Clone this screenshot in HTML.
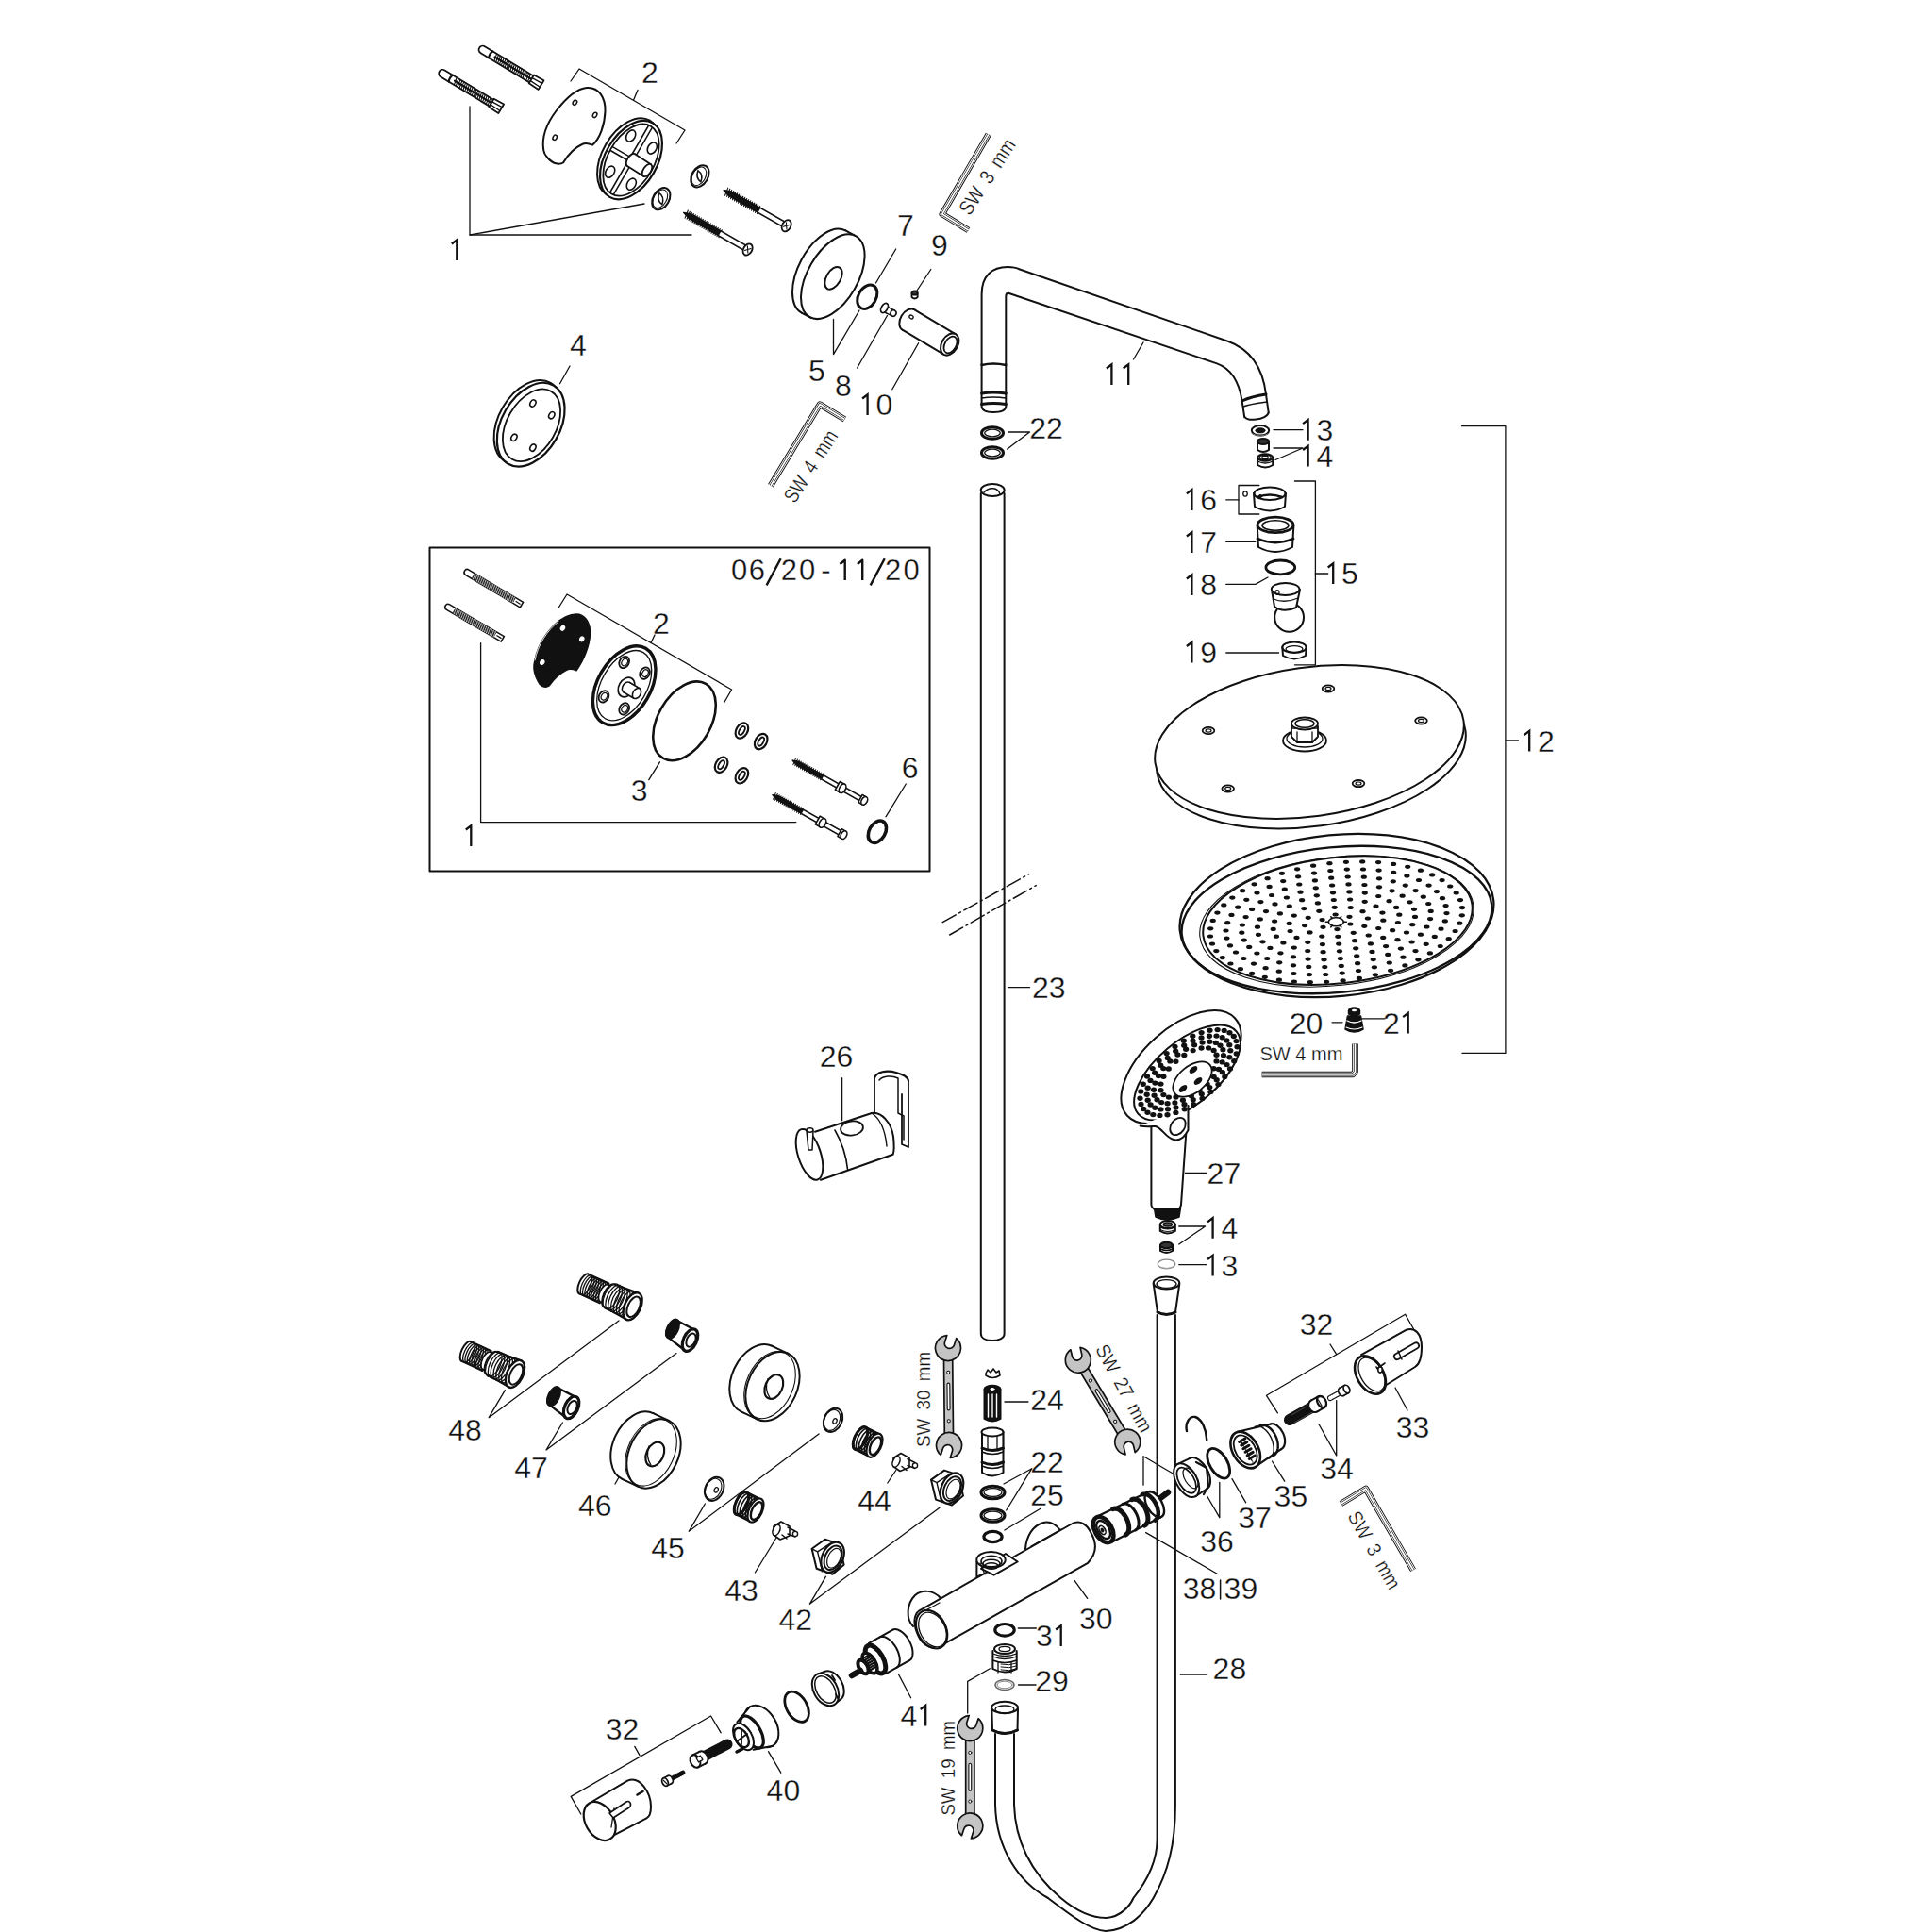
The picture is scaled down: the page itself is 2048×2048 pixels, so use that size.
<!DOCTYPE html>
<html><head><meta charset="utf-8"><style>
html,body{margin:0;padding:0;background:#fff;}
svg{display:block;}
text{font-family:"Liberation Sans",sans-serif;fill:#111;}
</style></head><body>
<svg width="2048" height="2048" viewBox="0 0 2048 2048">
<rect width="2048" height="2048" fill="#fff"/>
<g fill="none" stroke="#111" stroke-linejoin="round" stroke-linecap="round">
<g stroke="#fff" stroke-width="0.3" fill="#111">
<text x="689.0" y="88.0" font-size="32" text-anchor="middle">2</text>
<text x="613.0" y="377.0" font-size="32" text-anchor="middle">4</text>
<text x="866.0" y="404.0" font-size="32" text-anchor="middle">5</text>
<text x="894.0" y="420.0" font-size="32" text-anchor="middle">8</text>
<text x="960.0" y="250.0" font-size="32" text-anchor="middle">7</text>
<text x="996.0" y="271.0" font-size="32" text-anchor="middle">9</text>
<text x="928.5" y="440.0" font-size="32" text-anchor="middle"> 0</text>
<text x="1109.0" y="465.0" font-size="32" text-anchor="middle">22</text>
<text x="1395.5" y="466.7" font-size="32" text-anchor="middle"> 3</text>
<text x="1395.5" y="494.5" font-size="32" text-anchor="middle"> 4</text>
<text x="1272.3" y="540.9" font-size="32" text-anchor="middle"> 6</text>
<text x="1272.3" y="586.0" font-size="32" text-anchor="middle"> 7</text>
<text x="1272.3" y="631.0" font-size="32" text-anchor="middle"> 8</text>
<text x="1272.3" y="702.5" font-size="32" text-anchor="middle"> 9</text>
<text x="1422.1" y="619.0" font-size="32" text-anchor="middle"> 5</text>
<text x="1630.1" y="796.6" font-size="32" text-anchor="middle"> 2</text>
<text x="1384.5" y="1095.6" font-size="32" text-anchor="middle">20</text>
<text x="1483.8" y="1095.6" font-size="32" text-anchor="middle">2 </text>
<text x="1297.4" y="1254.5" font-size="32" text-anchor="middle">27</text>
<text x="1294.5" y="1312.8" font-size="32" text-anchor="middle"> 4</text>
<text x="1294.5" y="1352.5" font-size="32" text-anchor="middle"> 3</text>
<text x="1395.5" y="1414.8" font-size="32" text-anchor="middle">32</text>
<text x="1497.5" y="1523.5" font-size="32" text-anchor="middle">33</text>
<text x="1417.0" y="1568.0" font-size="32" text-anchor="middle">34</text>
<text x="1368.4" y="1597.0" font-size="32" text-anchor="middle">35</text>
<text x="1290.0" y="1644.8" font-size="32" text-anchor="middle">36</text>
<text x="1330.0" y="1619.7" font-size="32" text-anchor="middle">37</text>
<text x="1271.6" y="1695.0" font-size="32" text-anchor="middle">38</text>
<text x="1315.4" y="1695.0" font-size="32" text-anchor="middle">39</text>
<text x="1161.8" y="1726.5" font-size="32" text-anchor="middle">30</text>
<text x="1115.8" y="1745.0" font-size="32" text-anchor="middle">3 </text>
<text x="1115.0" y="1793.2" font-size="32" text-anchor="middle">29</text>
<text x="1303.4" y="1780.0" font-size="32" text-anchor="middle">28</text>
<text x="1110.0" y="1495.4" font-size="32" text-anchor="middle">24</text>
<text x="1110.0" y="1561.4" font-size="32" text-anchor="middle">22</text>
<text x="1110.0" y="1595.8" font-size="32" text-anchor="middle">25</text>
<text x="1111.7" y="1057.6" font-size="32" text-anchor="middle">23</text>
<text x="886.6" y="1131.2" font-size="32" text-anchor="middle">26</text>
<text x="493.0" y="1527.0" font-size="32" text-anchor="middle">48</text>
<text x="563.0" y="1566.7" font-size="32" text-anchor="middle">47</text>
<text x="630.8" y="1606.5" font-size="32" text-anchor="middle">46</text>
<text x="708.0" y="1651.6" font-size="32" text-anchor="middle">45</text>
<text x="927.0" y="1602.0" font-size="32" text-anchor="middle">44</text>
<text x="786.0" y="1696.6" font-size="32" text-anchor="middle">43</text>
<text x="843.2" y="1728.4" font-size="32" text-anchor="middle">42</text>
<text x="972.3" y="1829.5" font-size="32" text-anchor="middle">4 </text>
<text x="830.4" y="1908.7" font-size="32" text-anchor="middle">40</text>
<text x="659.5" y="1843.8" font-size="32" text-anchor="middle">32</text>
<text x="701.0" y="672.4" font-size="32" text-anchor="middle">2</text>
<text x="677.7" y="849.3" font-size="32" text-anchor="middle">3</text>
<text x="964.6" y="824.6" font-size="32" text-anchor="middle">6</text>
</g>
<g stroke="#111" stroke-width="2.3" stroke-linecap="butt" stroke-linejoin="miter" fill="none">
<path d="M484.3,276.0 L484.3,254.3 L478.8,258.5"/>
<path d="M919.6,440.0 L919.6,418.3 L914.1,422.5"/>
<path d="M1178.4,408.0 L1178.4,386.3 L1172.9,390.5"/>
<path d="M1196.2,408.0 L1196.2,386.3 L1190.7,390.5"/>
<path d="M1386.6,466.7 L1386.6,445.0 L1381.1,449.2"/>
<path d="M1386.6,494.5 L1386.6,472.8 L1381.1,477.0"/>
<path d="M1263.4,540.9 L1263.4,519.2 L1257.9,523.4"/>
<path d="M1263.4,586.0 L1263.4,564.3 L1257.9,568.5"/>
<path d="M1263.4,631.0 L1263.4,609.3 L1257.9,613.5"/>
<path d="M1263.4,702.5 L1263.4,680.8 L1257.9,685.0"/>
<path d="M1413.2,619.0 L1413.2,597.3 L1407.7,601.5"/>
<path d="M1621.2,796.6 L1621.2,774.9 L1615.7,779.1"/>
<path d="M1492.7,1095.6 L1492.7,1073.9 L1487.2,1078.1"/>
<path d="M1285.6,1312.8 L1285.6,1291.1 L1280.1,1295.3"/>
<path d="M1285.6,1352.5 L1285.6,1330.8 L1280.1,1335.0"/>
<path d="M1124.7,1745.0 L1124.7,1723.3 L1119.2,1727.5"/>
<path d="M981.2,1829.5 L981.2,1807.8 L975.7,1812.0"/>
<path d="M499.3,897.0 L499.3,875.3 L493.8,879.5"/>
</g>
<g stroke="#fff" stroke-width="0.3" fill="#111" font-size="31" text-anchor="middle">
<text x="783.5" y="615.1">0</text>
<text x="802.3" y="615.1">6</text>
<text x="836.4" y="615.1">2</text>
<text x="855.5" y="615.1">0</text>
<text x="875.5" y="615.1">-</text>
<text x="946.5" y="615.1">2</text>
<text x="966" y="615.1">0</text>
</g>
<g stroke="#111" stroke-width="2.4" fill="none" stroke-linecap="butt">
<path d="M812.6,620.4 L827.6,592.2"/>
<path d="M895.7,615.1 L895.7,593.7 L890.4000000000001,598.0"/>
<path d="M914.2,615.1 L914.2,593.7 L908.9000000000001,598.0"/>
<path d="M922.7,620.4 L937.7,592.2"/>
</g>
<rect x="455.5" y="580.5" width="530" height="343" stroke="#111" fill="none" stroke-width="2"/>
<line x1="1293.6" y1="1675" x2="1293.6" y2="1695" stroke="#111" stroke-width="1.5"/>
<g stroke-width="1.3">
<polyline points="605,86 614,73 726,138 717,152"/>
<line x1="671.6" y1="106" x2="676" y2="95.4"/>
<polyline points="498,113 498,249 733,249"/>
<line x1="498" y1="249" x2="683" y2="216"/>
<line x1="593.5" y1="406.8" x2="604" y2="388"/>
<polyline points="883.5,338.5 883.5,375.6 911,329"/>
<line x1="928.5" y1="300" x2="949.7" y2="264"/>
<line x1="908.6" y1="390" x2="940.5" y2="334.5"/>
<line x1="972" y1="308" x2="986.8" y2="285.5"/>
<line x1="945.8" y1="412.7" x2="973.6" y2="363.7"/>
<line x1="1201.5" y1="381" x2="1212" y2="363"/>
<polyline points="1069,458 1091.5,458 1067.7,476"/>
<line x1="1350" y1="455.7" x2="1381" y2="455.7"/>
<polyline points="1350,475 1381,475 1352,487.5"/>
<polyline points="1372.4,510 1394.4,510 1394.4,704.8 1372.4,704.8"/>
<line x1="1394.4" y1="608" x2="1407.7" y2="608"/>
<polyline points="1334.8,514.5 1313,514.5 1313,545 1334.8,545"/>
<line x1="1299.8" y1="529.9" x2="1313" y2="529.9"/>
<line x1="1299.8" y1="574.4" x2="1330.8" y2="574.4"/>
<polyline points="1299.8,619.4 1330.8,619.4 1344,612"/>
<line x1="1299.8" y1="692" x2="1355.5" y2="692"/>
<polyline points="1549.5,451.7 1595.9,451.7 1595.9,1116.4 1550,1116.4"/>
<line x1="1595.9" y1="785" x2="1609.5" y2="785"/>
<line x1="1412" y1="1083.8" x2="1423" y2="1083.8"/>
<line x1="1444" y1="1079.8" x2="1468" y2="1079.8"/>
<line x1="1068.8" y1="1046.6" x2="1091.6" y2="1046.6"/>
<line x1="892.6" y1="1142.7" x2="892.6" y2="1187.7"/>
<line x1="1256.4" y1="1243.5" x2="1279" y2="1243.5"/>
<polyline points="1249.7,1300 1277.6,1300 1249.7,1319"/>
<line x1="1249.7" y1="1340.7" x2="1279" y2="1340.7"/>
<polyline points="1354.4,1497.9 1342.5,1479.3 1489.6,1393.2 1500.2,1411.7"/>
<line x1="1416.7" y1="1435.6" x2="1410" y2="1425"/>
<line x1="1479" y1="1471" x2="1492" y2="1495"/>
<polyline points="1398,1509.8 1416.7,1543 1416.7,1484.6"/>
<line x1="1348.5" y1="1549" x2="1361.7" y2="1570.2"/>
<polyline points="1279.6,1586 1292.8,1608.7 1292.8,1571.5"/>
<line x1="1306" y1="1567.6" x2="1320.7" y2="1592.8"/>
<polyline points="1212,1574.2 1212,1543.7 1242.5,1561.5"/>
<line x1="1214.7" y1="1624.6" x2="1290.2" y2="1668.3"/>
<line x1="1065" y1="1486" x2="1089.9" y2="1486"/>
<polyline points="1064,1573 1093.8,1556.7 1066.7,1601"/>
<line x1="1064.9" y1="1622" x2="1102.9" y2="1599.3"/>
<line x1="1139" y1="1675.4" x2="1152.7" y2="1694.4"/>
<line x1="1079.3" y1="1726" x2="1098.4" y2="1726"/>
<line x1="1079.5" y1="1786" x2="1098" y2="1786"/>
<line x1="1251.2" y1="1775" x2="1279.6" y2="1775"/>
<polyline points="1049.3,1768.8 1025.7,1782.4 1025.7,1816"/>
<polyline points="535.4,1473.6 518.2,1502.7 656,1400"/>
<polyline points="596.4,1508 579,1537 717,1434.6"/>
<line x1="652" y1="1573" x2="657.3" y2="1563.7"/>
<polyline points="747.4,1594 730.2,1623.3 868,1520"/>
<line x1="940.8" y1="1572" x2="949.8" y2="1558.5"/>
<line x1="800.4" y1="1667" x2="823" y2="1630"/>
<polyline points="875.5,1671.2 858.3,1700.3 996,1598.3"/>
<line x1="952.3" y1="1774.5" x2="965.6" y2="1799.7"/>
<line x1="814.5" y1="1856.7" x2="827.8" y2="1879.2"/>
<polyline points="615.8,1923 605.2,1904.4 753.6,1819 764.2,1836.8"/>
<line x1="678" y1="1860.6" x2="672.8" y2="1851.4"/>
<polyline points="592.2,644 601,630 775.6,731 767.5,745"/>
<line x1="690" y1="681.5" x2="694" y2="673"/>
<polyline points="509.6,681.7 509.6,871.6 843.8,871.6"/>
<line x1="687.8" y1="826.7" x2="699.4" y2="807.8"/>
<line x1="939" y1="865.8" x2="960.3" y2="831"/>
</g>

<g stroke-width="2">
<!-- pipe 11 -->
<path d="M1040.6,386 L1040.6,312 C1040.6,292 1052,283 1068,283 C1074,283 1078,284 1081,285.5 L1301.6,361.7 C1322,369 1338,385 1342,418 L1344.7,437.4"/>
<path d="M1066.3,386 L1066.3,314 C1066.3,311 1067.5,310.7 1069,310.7 L1290,385.4 C1303,390 1313,402 1316.6,425 L1319.2,441.8"/>
<path d="M1319.2,441.8 C1322,445 1328,445 1331.5,444.4 C1338,444 1344,441 1344.7,437.4"/>
<path d="M1316.6,425 C1325,421 1335,419 1342,418" stroke-width="3"/>
<path d="M1318,431 C1326,428 1336,427 1343,426" stroke-width="1.6"/>
<!-- pipe lower end w/ rings -->
<path d="M1040.6,386 L1040.6,431 C1041,436 1046,437 1053,437 C1060,437 1066,436 1066.3,431 L1066.3,386"/>
<path d="M1040.6,387 Q1053,384 1066.3,387" stroke-width="2.4"/>
<path d="M1040.6,417 Q1053,415 1066.3,417" stroke-width="3"/>
<path d="M1040.6,422 Q1053,420 1066.3,422" stroke-width="1.6"/>
<path d="M1040.6,428.5 Q1053,426.5 1066.3,428.5" stroke-width="3.2"/>
<!-- o-rings 22 top -->
<ellipse cx="1052" cy="459" rx="11.5" ry="6.3" stroke-width="3"/><ellipse cx="1052" cy="459" rx="8.3" ry="3.8" stroke-width="1.3"/>
<ellipse cx="1052" cy="480" rx="11.5" ry="6.3" stroke-width="3"/><ellipse cx="1052" cy="480" rx="8.3" ry="3.8" stroke-width="1.3"/>
<!-- rail 23 -->
<path d="M1039.8,523 L1039.8,1414 C1040,1419 1046,1421 1052,1421 C1058,1421 1064.6,1419 1064.6,1414 L1064.6,523"/>
<ellipse cx="1052.2" cy="519.5" rx="12.5" ry="6.5"/>
<path d="M1043,522 C1048,516 1058,516 1060,524" stroke-width="1.4"/>
</g>
<g stroke-width="1.5" stroke-dasharray="16,4,2,4">
<line x1="999.2" y1="977.6" x2="1090.7" y2="926.6"/>
<line x1="1006.7" y1="991" x2="1098.2" y2="938.6"/>
</g>
<g stroke-width="2">
<!-- hose 28 -->
<path d="M1245.9,1394 L1245.9,1913 C1246,1955 1238,1985 1222.6,2012 C1212,2030 1195,2046 1172,2047 C1155,2046 1135,2030 1111,2012 C1080,1995 1056,1960 1055,1913 L1055,1838"/>
<path d="M1226.6,1394 L1226.6,1950 C1226.6,1975 1215,1995 1201.4,2012 C1198,2020 1188,2032 1172.8,2033 C1155,2033 1140,2025 1124.6,2012 C1092,1985 1076,1950 1075,1913 L1075,1838"/>
<!-- hose nut top -->
<path d="M1222.7,1361 L1227,1391 Q1236.5,1395 1246,1391 L1250.3,1361"/>
<ellipse cx="1236.5" cy="1360" rx="13.8" ry="6.6"/>
<ellipse cx="1236.5" cy="1361" rx="10.5" ry="4.4" stroke-width="1.3"/>
<path d="M1227,1391 Q1236.5,1396 1246,1391" stroke-width="3"/>
<!-- hose nut bottom -->
<path d="M1051.4,1812 L1052,1834 Q1065,1841 1078.5,1834 L1079,1812"/>
<ellipse cx="1065" cy="1810" rx="14" ry="6.3"/>
<ellipse cx="1065" cy="1812" rx="10" ry="4" stroke-width="1.3"/>
<path d="M1052,1834 Q1065,1841 1078.5,1834" stroke-width="3"/>
</g>

<g stroke-width="2">
<ellipse cx="1390" cy="797.0" rx="165" ry="79" transform="rotate(-7.8 1390 797.0)" fill="#fff"/>
<ellipse cx="1388" cy="786.5" rx="165" ry="79" transform="rotate(-7.8 1388 786.5)" fill="#fff"/>
<ellipse cx="1408" cy="730" rx="6.3" ry="3.6" stroke-width="1.8"/>
<ellipse cx="1408" cy="730" rx="3" ry="1.6" stroke-width="1.2"/>
<ellipse cx="1506.5" cy="764" rx="6.3" ry="3.6" stroke-width="1.8"/>
<ellipse cx="1506.5" cy="764" rx="3" ry="1.6" stroke-width="1.2"/>
<ellipse cx="1281" cy="774.5" rx="6.3" ry="3.6" stroke-width="1.8"/>
<ellipse cx="1281" cy="774.5" rx="3" ry="1.6" stroke-width="1.2"/>
<ellipse cx="1301.7" cy="836" rx="6.3" ry="3.6" stroke-width="1.8"/>
<ellipse cx="1301.7" cy="836" rx="3" ry="1.6" stroke-width="1.2"/>
<ellipse cx="1440" cy="830.6" rx="6.3" ry="3.6" stroke-width="1.8"/>
<ellipse cx="1440" cy="830.6" rx="3" ry="1.6" stroke-width="1.2"/>
<ellipse cx="1383" cy="785" rx="23" ry="11.5" stroke-width="1.8"/>
<ellipse cx="1383" cy="783" rx="19" ry="9" stroke-width="1.3"/>
<path d="M1369,781 L1369,770 L1375,764 L1391,764 L1397,770 L1397,781 L1391,787 L1375,787 Z" fill="#fff" stroke-width="1.8"/>
<line x1="1375" y1="776" x2="1375" y2="787" stroke-width="1.3"/><line x1="1391" y1="776" x2="1391" y2="787" stroke-width="1.3"/>
<path d="M1369,772 L1397,772" stroke-width="1.3"/>
<ellipse cx="1383" cy="767" rx="14" ry="6.5" fill="#fff" stroke-width="1.8"/>
<ellipse cx="1383" cy="767" rx="10" ry="4.3" stroke-width="1.5"/>
<ellipse cx="1417" cy="970.5" rx="167" ry="85.5" transform="rotate(-5.5 1417 970.5)" stroke-width="2.3"/>
<ellipse cx="1417" cy="975" rx="165" ry="77" transform="rotate(-5.5 1417 975)" stroke-width="2.3"/>
<ellipse cx="1418" cy="975.7" rx="143.5" ry="66.7" transform="rotate(-6.5 1418 975.7)" stroke-width="2"/>
<ellipse cx="1417" cy="976.5" rx="146" ry="68" transform="rotate(-6.5 1417 976.5)" stroke-width="1.1"/>
</g>
<g fill="#111" stroke="none"><ellipse cx="1431.4" cy="979.5" rx="3.1" ry="2.1"/><ellipse cx="1417.4" cy="985.1" rx="3.1" ry="2.1"/><ellipse cx="1402.5" cy="982.8" rx="3.1" ry="2.1"/><ellipse cx="1401.6" cy="975.1" rx="3.1" ry="2.1"/><ellipse cx="1415.6" cy="969.5" rx="3.1" ry="2.1"/><ellipse cx="1430.5" cy="971.8" rx="3.1" ry="2.1"/><ellipse cx="1449.9" cy="973.5" rx="3.1" ry="2.1"/><ellipse cx="1446.3" cy="981.8" rx="3.1" ry="2.1"/><ellipse cx="1434.7" cy="988.8" rx="3.1" ry="2.1"/><ellipse cx="1418.3" cy="992.8" rx="3.1" ry="2.1"/><ellipse cx="1401.3" cy="992.6" rx="3.1" ry="2.1"/><ellipse cx="1388.5" cy="988.4" rx="3.1" ry="2.1"/><ellipse cx="1383.1" cy="981.1" rx="3.1" ry="2.1"/><ellipse cx="1386.7" cy="972.8" rx="3.1" ry="2.1"/><ellipse cx="1398.3" cy="965.8" rx="3.1" ry="2.1"/><ellipse cx="1414.7" cy="961.8" rx="3.1" ry="2.1"/><ellipse cx="1431.7" cy="962.0" rx="3.1" ry="2.1"/><ellipse cx="1444.5" cy="966.2" rx="3.1" ry="2.1"/><ellipse cx="1466.3" cy="975.7" rx="3.1" ry="2.1"/><ellipse cx="1461.2" cy="984.0" rx="3.1" ry="2.1"/><ellipse cx="1450.7" cy="991.5" rx="3.1" ry="2.1"/><ellipse cx="1436.1" cy="997.2" rx="3.1" ry="2.1"/><ellipse cx="1419.2" cy="1000.6" rx="3.1" ry="2.1"/><ellipse cx="1401.9" cy="1001.1" rx="3.1" ry="2.1"/><ellipse cx="1386.3" cy="998.8" rx="3.1" ry="2.1"/><ellipse cx="1374.5" cy="993.9" rx="3.1" ry="2.1"/><ellipse cx="1367.6" cy="987.0" rx="3.1" ry="2.1"/><ellipse cx="1366.7" cy="978.9" rx="3.1" ry="2.1"/><ellipse cx="1371.8" cy="970.6" rx="3.1" ry="2.1"/><ellipse cx="1382.3" cy="963.1" rx="3.1" ry="2.1"/><ellipse cx="1396.9" cy="957.4" rx="3.1" ry="2.1"/><ellipse cx="1413.8" cy="954.0" rx="3.1" ry="2.1"/><ellipse cx="1431.1" cy="953.5" rx="3.1" ry="2.1"/><ellipse cx="1446.7" cy="955.8" rx="3.1" ry="2.1"/><ellipse cx="1458.5" cy="960.7" rx="3.1" ry="2.1"/><ellipse cx="1465.4" cy="967.6" rx="3.1" ry="2.1"/><ellipse cx="1483.3" cy="969.7" rx="3.1" ry="2.1"/><ellipse cx="1481.9" cy="978.0" rx="3.1" ry="2.1"/><ellipse cx="1476.1" cy="986.2" rx="3.1" ry="2.1"/><ellipse cx="1466.2" cy="993.9" rx="3.1" ry="2.1"/><ellipse cx="1452.9" cy="1000.4" rx="3.1" ry="2.1"/><ellipse cx="1437.2" cy="1005.3" rx="3.1" ry="2.1"/><ellipse cx="1420.0" cy="1008.3" rx="3.1" ry="2.1"/><ellipse cx="1402.6" cy="1009.2" rx="3.1" ry="2.1"/><ellipse cx="1386.2" cy="1008.0" rx="3.1" ry="2.1"/><ellipse cx="1371.8" cy="1004.6" rx="3.1" ry="2.1"/><ellipse cx="1360.4" cy="999.4" rx="3.1" ry="2.1"/><ellipse cx="1352.9" cy="992.7" rx="3.1" ry="2.1"/><ellipse cx="1349.7" cy="984.9" rx="3.1" ry="2.1"/><ellipse cx="1351.1" cy="976.6" rx="3.1" ry="2.1"/><ellipse cx="1356.9" cy="968.4" rx="3.1" ry="2.1"/><ellipse cx="1366.8" cy="960.7" rx="3.1" ry="2.1"/><ellipse cx="1380.1" cy="954.2" rx="3.1" ry="2.1"/><ellipse cx="1395.8" cy="949.3" rx="3.1" ry="2.1"/><ellipse cx="1413.0" cy="946.3" rx="3.1" ry="2.1"/><ellipse cx="1430.4" cy="945.4" rx="3.1" ry="2.1"/><ellipse cx="1446.8" cy="946.6" rx="3.1" ry="2.1"/><ellipse cx="1461.2" cy="950.0" rx="3.1" ry="2.1"/><ellipse cx="1472.6" cy="955.2" rx="3.1" ry="2.1"/><ellipse cx="1480.1" cy="961.9" rx="3.1" ry="2.1"/><ellipse cx="1500.0" cy="971.9" rx="3.1" ry="2.1"/><ellipse cx="1497.2" cy="980.2" rx="3.1" ry="2.1"/><ellipse cx="1491.0" cy="988.5" rx="3.1" ry="2.1"/><ellipse cx="1481.5" cy="996.2" rx="3.1" ry="2.1"/><ellipse cx="1469.1" cy="1003.1" rx="3.1" ry="2.1"/><ellipse cx="1454.5" cy="1008.9" rx="3.1" ry="2.1"/><ellipse cx="1438.2" cy="1013.3" rx="3.1" ry="2.1"/><ellipse cx="1420.9" cy="1016.1" rx="3.1" ry="2.1"/><ellipse cx="1403.5" cy="1017.2" rx="3.1" ry="2.1"/><ellipse cx="1386.6" cy="1016.6" rx="3.1" ry="2.1"/><ellipse cx="1371.0" cy="1014.3" rx="3.1" ry="2.1"/><ellipse cx="1357.4" cy="1010.3" rx="3.1" ry="2.1"/><ellipse cx="1346.4" cy="1004.9" rx="3.1" ry="2.1"/><ellipse cx="1338.5" cy="998.3" rx="3.1" ry="2.1"/><ellipse cx="1334.0" cy="990.8" rx="3.1" ry="2.1"/><ellipse cx="1333.0" cy="982.7" rx="3.1" ry="2.1"/><ellipse cx="1335.8" cy="974.4" rx="3.1" ry="2.1"/><ellipse cx="1342.0" cy="966.1" rx="3.1" ry="2.1"/><ellipse cx="1351.5" cy="958.4" rx="3.1" ry="2.1"/><ellipse cx="1363.9" cy="951.5" rx="3.1" ry="2.1"/><ellipse cx="1378.5" cy="945.7" rx="3.1" ry="2.1"/><ellipse cx="1394.8" cy="941.3" rx="3.1" ry="2.1"/><ellipse cx="1412.1" cy="938.5" rx="3.1" ry="2.1"/><ellipse cx="1429.5" cy="937.4" rx="3.1" ry="2.1"/><ellipse cx="1446.4" cy="938.0" rx="3.1" ry="2.1"/><ellipse cx="1462.0" cy="940.3" rx="3.1" ry="2.1"/><ellipse cx="1475.6" cy="944.3" rx="3.1" ry="2.1"/><ellipse cx="1486.6" cy="949.7" rx="3.1" ry="2.1"/><ellipse cx="1494.5" cy="956.3" rx="3.1" ry="2.1"/><ellipse cx="1499.0" cy="963.8" rx="3.1" ry="2.1"/><ellipse cx="1516.7" cy="965.9" rx="3.1" ry="2.1"/><ellipse cx="1516.1" cy="974.1" rx="3.1" ry="2.1"/><ellipse cx="1512.4" cy="982.5" rx="3.1" ry="2.1"/><ellipse cx="1505.9" cy="990.7" rx="3.1" ry="2.1"/><ellipse cx="1496.6" cy="998.5" rx="3.1" ry="2.1"/><ellipse cx="1484.9" cy="1005.6" rx="3.1" ry="2.1"/><ellipse cx="1471.2" cy="1011.9" rx="3.1" ry="2.1"/><ellipse cx="1455.7" cy="1017.1" rx="3.1" ry="2.1"/><ellipse cx="1439.1" cy="1021.2" rx="3.1" ry="2.1"/><ellipse cx="1421.8" cy="1023.9" rx="3.1" ry="2.1"/><ellipse cx="1404.3" cy="1025.1" rx="3.1" ry="2.1"/><ellipse cx="1387.2" cy="1024.9" rx="3.1" ry="2.1"/><ellipse cx="1371.0" cy="1023.3" rx="3.1" ry="2.1"/><ellipse cx="1356.2" cy="1020.3" rx="3.1" ry="2.1"/><ellipse cx="1343.2" cy="1016.0" rx="3.1" ry="2.1"/><ellipse cx="1332.4" cy="1010.5" rx="3.1" ry="2.1"/><ellipse cx="1324.2" cy="1003.9" rx="3.1" ry="2.1"/><ellipse cx="1318.8" cy="996.6" rx="3.1" ry="2.1"/><ellipse cx="1316.3" cy="988.7" rx="3.1" ry="2.1"/><ellipse cx="1316.9" cy="980.5" rx="3.1" ry="2.1"/><ellipse cx="1320.6" cy="972.1" rx="3.1" ry="2.1"/><ellipse cx="1327.1" cy="963.9" rx="3.1" ry="2.1"/><ellipse cx="1336.4" cy="956.1" rx="3.1" ry="2.1"/><ellipse cx="1348.1" cy="949.0" rx="3.1" ry="2.1"/><ellipse cx="1361.8" cy="942.7" rx="3.1" ry="2.1"/><ellipse cx="1377.3" cy="937.5" rx="3.1" ry="2.1"/><ellipse cx="1393.9" cy="933.4" rx="3.1" ry="2.1"/><ellipse cx="1411.2" cy="930.7" rx="3.1" ry="2.1"/><ellipse cx="1428.7" cy="929.5" rx="3.1" ry="2.1"/><ellipse cx="1445.8" cy="929.7" rx="3.1" ry="2.1"/><ellipse cx="1462.0" cy="931.3" rx="3.1" ry="2.1"/><ellipse cx="1476.8" cy="934.3" rx="3.1" ry="2.1"/><ellipse cx="1489.8" cy="938.6" rx="3.1" ry="2.1"/><ellipse cx="1500.6" cy="944.1" rx="3.1" ry="2.1"/><ellipse cx="1508.8" cy="950.7" rx="3.1" ry="2.1"/><ellipse cx="1514.2" cy="958.0" rx="3.1" ry="2.1"/><ellipse cx="1533.5" cy="968.1" rx="3.1" ry="2.1"/><ellipse cx="1531.8" cy="976.4" rx="3.1" ry="2.1"/><ellipse cx="1527.5" cy="984.7" rx="3.1" ry="2.1"/><ellipse cx="1520.8" cy="992.9" rx="3.1" ry="2.1"/><ellipse cx="1511.7" cy="1000.8" rx="3.1" ry="2.1"/><ellipse cx="1500.5" cy="1008.1" rx="3.1" ry="2.1"/><ellipse cx="1487.4" cy="1014.7" rx="3.1" ry="2.1"/><ellipse cx="1472.8" cy="1020.5" rx="3.1" ry="2.1"/><ellipse cx="1456.9" cy="1025.3" rx="3.1" ry="2.1"/><ellipse cx="1440.0" cy="1029.0" rx="3.1" ry="2.1"/><ellipse cx="1422.7" cy="1031.6" rx="3.1" ry="2.1"/><ellipse cx="1405.2" cy="1033.0" rx="3.1" ry="2.1"/><ellipse cx="1388.0" cy="1033.1" rx="3.1" ry="2.1"/><ellipse cx="1371.4" cy="1032.0" rx="3.1" ry="2.1"/><ellipse cx="1355.8" cy="1029.7" rx="3.1" ry="2.1"/><ellipse cx="1341.6" cy="1026.2" rx="3.1" ry="2.1"/><ellipse cx="1329.0" cy="1021.6" rx="3.1" ry="2.1"/><ellipse cx="1318.4" cy="1016.0" rx="3.1" ry="2.1"/><ellipse cx="1310.0" cy="1009.5" rx="3.1" ry="2.1"/><ellipse cx="1304.0" cy="1002.4" rx="3.1" ry="2.1"/><ellipse cx="1300.4" cy="994.6" rx="3.1" ry="2.1"/><ellipse cx="1299.5" cy="986.5" rx="3.1" ry="2.1"/><ellipse cx="1301.2" cy="978.2" rx="3.1" ry="2.1"/><ellipse cx="1305.5" cy="969.9" rx="3.1" ry="2.1"/><ellipse cx="1312.2" cy="961.7" rx="3.1" ry="2.1"/><ellipse cx="1321.3" cy="953.8" rx="3.1" ry="2.1"/><ellipse cx="1332.5" cy="946.5" rx="3.1" ry="2.1"/><ellipse cx="1345.6" cy="939.9" rx="3.1" ry="2.1"/><ellipse cx="1360.2" cy="934.1" rx="3.1" ry="2.1"/><ellipse cx="1376.1" cy="929.3" rx="3.1" ry="2.1"/><ellipse cx="1393.0" cy="925.6" rx="3.1" ry="2.1"/><ellipse cx="1410.3" cy="923.0" rx="3.1" ry="2.1"/><ellipse cx="1427.8" cy="921.6" rx="3.1" ry="2.1"/><ellipse cx="1445.0" cy="921.5" rx="3.1" ry="2.1"/><ellipse cx="1461.6" cy="922.6" rx="3.1" ry="2.1"/><ellipse cx="1477.2" cy="924.9" rx="3.1" ry="2.1"/><ellipse cx="1491.4" cy="928.4" rx="3.1" ry="2.1"/><ellipse cx="1504.0" cy="933.0" rx="3.1" ry="2.1"/><ellipse cx="1514.6" cy="938.6" rx="3.1" ry="2.1"/><ellipse cx="1523.0" cy="945.1" rx="3.1" ry="2.1"/><ellipse cx="1529.0" cy="952.2" rx="3.1" ry="2.1"/><ellipse cx="1532.6" cy="960.0" rx="3.1" ry="2.1"/><ellipse cx="1550.0" cy="962.1" rx="3.1" ry="2.1"/><ellipse cx="1549.8" cy="970.3" rx="3.1" ry="2.1"/><ellipse cx="1547.3" cy="978.7" rx="3.1" ry="2.1"/><ellipse cx="1542.6" cy="987.0" rx="3.1" ry="2.1"/><ellipse cx="1535.7" cy="995.2" rx="3.1" ry="2.1"/><ellipse cx="1526.7" cy="1003.0" rx="3.1" ry="2.1"/><ellipse cx="1515.9" cy="1010.4" rx="3.1" ry="2.1"/><ellipse cx="1503.4" cy="1017.3" rx="3.1" ry="2.1"/><ellipse cx="1489.4" cy="1023.4" rx="3.1" ry="2.1"/><ellipse cx="1474.1" cy="1028.8" rx="3.1" ry="2.1"/><ellipse cx="1457.9" cy="1033.3" rx="3.1" ry="2.1"/><ellipse cx="1440.9" cy="1036.9" rx="3.1" ry="2.1"/><ellipse cx="1423.6" cy="1039.4" rx="3.1" ry="2.1"/><ellipse cx="1406.1" cy="1040.8" rx="3.1" ry="2.1"/><ellipse cx="1388.8" cy="1041.2" rx="3.1" ry="2.1"/><ellipse cx="1371.9" cy="1040.5" rx="3.1" ry="2.1"/><ellipse cx="1355.9" cy="1038.7" rx="3.1" ry="2.1"/><ellipse cx="1340.8" cy="1035.8" rx="3.1" ry="2.1"/><ellipse cx="1327.1" cy="1031.9" rx="3.1" ry="2.1"/><ellipse cx="1314.9" cy="1027.2" rx="3.1" ry="2.1"/><ellipse cx="1304.4" cy="1021.5" rx="3.1" ry="2.1"/><ellipse cx="1295.8" cy="1015.1" rx="3.1" ry="2.1"/><ellipse cx="1289.3" cy="1008.1" rx="3.1" ry="2.1"/><ellipse cx="1285.0" cy="1000.5" rx="3.1" ry="2.1"/><ellipse cx="1283.0" cy="992.5" rx="3.1" ry="2.1"/><ellipse cx="1283.2" cy="984.3" rx="3.1" ry="2.1"/><ellipse cx="1285.7" cy="975.9" rx="3.1" ry="2.1"/><ellipse cx="1290.4" cy="967.6" rx="3.1" ry="2.1"/><ellipse cx="1297.3" cy="959.4" rx="3.1" ry="2.1"/><ellipse cx="1306.3" cy="951.6" rx="3.1" ry="2.1"/><ellipse cx="1317.1" cy="944.2" rx="3.1" ry="2.1"/><ellipse cx="1329.6" cy="937.3" rx="3.1" ry="2.1"/><ellipse cx="1343.6" cy="931.2" rx="3.1" ry="2.1"/><ellipse cx="1358.9" cy="925.8" rx="3.1" ry="2.1"/><ellipse cx="1375.1" cy="921.3" rx="3.1" ry="2.1"/><ellipse cx="1392.1" cy="917.7" rx="3.1" ry="2.1"/><ellipse cx="1409.4" cy="915.2" rx="3.1" ry="2.1"/><ellipse cx="1426.9" cy="913.8" rx="3.1" ry="2.1"/><ellipse cx="1444.2" cy="913.4" rx="3.1" ry="2.1"/><ellipse cx="1461.1" cy="914.1" rx="3.1" ry="2.1"/><ellipse cx="1477.1" cy="915.9" rx="3.1" ry="2.1"/><ellipse cx="1492.2" cy="918.8" rx="3.1" ry="2.1"/><ellipse cx="1505.9" cy="922.7" rx="3.1" ry="2.1"/><ellipse cx="1518.1" cy="927.4" rx="3.1" ry="2.1"/><ellipse cx="1528.6" cy="933.1" rx="3.1" ry="2.1"/><ellipse cx="1537.2" cy="939.5" rx="3.1" ry="2.1"/><ellipse cx="1543.7" cy="946.5" rx="3.1" ry="2.1"/><ellipse cx="1548.0" cy="954.1" rx="3.1" ry="2.1"/></g>
<g stroke-width="1.6"><ellipse cx="1416.3" cy="977.3" rx="8" ry="4.5"/>
<line x1="1424.3" y1="977.3" x2="1427.3" y2="977.3"/>
<line x1="1420.3" y1="981.2" x2="1421.8" y2="982.8"/>
<line x1="1412.3" y1="981.2" x2="1410.8" y2="982.8"/>
<line x1="1408.3" y1="977.3" x2="1405.3" y2="977.3"/>
<line x1="1412.3" y1="973.4" x2="1410.8" y2="971.8"/>
<line x1="1420.3" y1="973.4" x2="1421.8" y2="971.8"/>
</g>
<g stroke-width="2">
<!-- 13 washer -->
<ellipse cx="1336" cy="456.3" rx="9.2" ry="5.3"/>
<ellipse cx="1336" cy="456.3" rx="5.5" ry="3" fill="#111" stroke="none"/>
<path d="M1328,460 Q1336,464 1344,460" stroke-width="1" stroke="#777"/>
<!-- 14 small -->
<path d="M1333,468 L1333,477 Q1339,481 1345,477 L1345,468"/>
<ellipse cx="1339" cy="468" rx="6.2" ry="3" fill="#333"/>
<!-- 14 larger -->
<path d="M1333.2,485 L1333.2,493 Q1341.2,498 1349.2,493 L1349.2,485"/>
<ellipse cx="1341.2" cy="485" rx="8" ry="3.8"/>
<ellipse cx="1341.2" cy="485" rx="6" ry="2.6" stroke-width="1.3"/>
<rect x="1338" y="483.5" width="6" height="3" stroke-width="1.2"/>
<path d="M1333.2,489 Q1341.2,493 1349.2,489" stroke-width="1.3"/>
<!-- 16 -->
<ellipse cx="1320" cy="523.5" rx="2.2" ry="2.6" stroke-width="1.3"/>
<path d="M1329,523 L1330,537 Q1346,546 1362,537 L1363,523"/>
<ellipse cx="1346" cy="523.2" rx="16.4" ry="6.8"/>
<path d="M1333,527 Q1346,522 1359,527" stroke-width="2.5"/>
<circle cx="1336" cy="526" r="1.6" stroke-width="1"/>
<!-- 17 -->
<path d="M1332.7,557 L1334,580 Q1352,590 1370,580 L1371.4,557"/>
<ellipse cx="1352" cy="556.4" rx="19" ry="8.2" stroke-width="2.8"/>
<ellipse cx="1352" cy="557" rx="14" ry="5.2" stroke-width="1.6"/>
<path d="M1333,571 Q1352,579 1371,571" stroke-width="2.8"/>
<!-- 18 o-ring -->
<ellipse cx="1357.3" cy="601.4" rx="15.4" ry="7.4" stroke-width="2.8"/>
<!-- ball joint -->
<circle cx="1366.6" cy="654.4" r="15.4"/>
<path d="M1348,625 L1351,643 Q1360,650 1374,644 L1378,625" fill="#fff"/>
<ellipse cx="1362.6" cy="624.5" rx="14.8" ry="6.5" fill="#fff"/>
<ellipse cx="1354" cy="628" rx="2" ry="2.3" stroke-width="1.2"/>
<path d="M1350,635 Q1362,640 1376,634" stroke-width="1.3"/>
<!-- 19 -->
<path d="M1359.3,686 L1360,695 Q1372,702 1384,695 L1384.7,686"/>
<ellipse cx="1372" cy="686.2" rx="12.7" ry="5.8"/>
<ellipse cx="1372" cy="688" rx="9" ry="3.3" stroke-width="1.3"/>
<!-- 20/21 -->
<path d="M1428.5,1077 L1426,1091 Q1435.5,1097 1445,1091 L1442.5,1077 Z" fill="#111" stroke-width="1.5"/>
<path d="M1428,1082 Q1435.5,1086 1443,1082" stroke="#fff" stroke-width="1.4"/>
<path d="M1427,1089 Q1435.5,1093 1444,1089" stroke="#fff" stroke-width="1.2"/>
<ellipse cx="1435.5" cy="1071.5" rx="6" ry="3.6" fill="#111" stroke-width="1.4"/>
<path d="M1429.5,1071.5 L1429.5,1075 Q1435.5,1079 1441.5,1075 L1441.5,1071.5" fill="#111" stroke-width="1.4"/>
<ellipse cx="1435.5" cy="1071" rx="2.6" ry="1.2" fill="#fff" stroke="none"/>
</g>
<!-- SW 4 mm key -->
<polyline points="1337.6,1139 1434,1139 1436.5,1136 1436.5,1106.5" stroke="#111" stroke-width="6.6" stroke-linejoin="round" stroke-linecap="butt"/><polyline points="1337.6,1139 1434,1139 1436.5,1136 1436.5,1106.5" stroke="#fff" stroke-width="4.7" stroke-linejoin="round" stroke-linecap="butt"/><polyline points="1337.6,1139 1434,1139 1436.5,1136 1436.5,1106.5" stroke="#111" stroke-width="2.9" stroke-linejoin="round" stroke-linecap="butt"/><polyline points="1337.6,1139 1434,1139 1436.5,1136 1436.5,1106.5" stroke="#fff" stroke-width="1.7" stroke-linejoin="round" stroke-linecap="butt"/>
<text x="1335.5" y="1124.3" font-size="21" textLength="88" lengthAdjust="spacingAndGlyphs" stroke="#fff" stroke-width="0.25" fill="#111">SW 4 mm</text>

<g stroke-width="2">
<path d="M1220.4,1190 L1220.4,1277 C1221,1283 1230,1285 1236,1285 C1244,1285 1251,1283 1252,1277 L1255,1233.8 L1259.5,1170 Z" fill="#fff"/>
<path d="M1223.5,1281 L1225,1290 Q1237,1296 1250,1290 L1251.4,1281" fill="#111" stroke-width="1.5"/>
<ellipse cx="1252" cy="1131" rx="77" ry="41" transform="rotate(-42 1252 1131)" fill="#fff"/>
<ellipse cx="1258.5" cy="1137" rx="68" ry="33" transform="rotate(-40 1258.5 1137)" fill="#fff"/>
<path d="M1208.6,1193.5 C1215,1195 1222,1194 1225,1194 C1232,1196 1236,1206 1244,1208 C1252,1210 1256,1204 1259.5,1198 L1259.5,1172" fill="#fff"/>
<ellipse cx="1248.5" cy="1194" rx="7.2" ry="10" transform="rotate(35 1248.5 1194)" fill="#fff" stroke-width="1.8"/>
</g>
<g fill="#111" stroke="none"><ellipse cx="1304.0" cy="1133.0" rx="3.1" ry="2.7"/><ellipse cx="1298.3" cy="1141.4" rx="3.1" ry="2.7"/><ellipse cx="1291.4" cy="1149.6" rx="3.1" ry="2.7"/><ellipse cx="1283.4" cy="1157.4" rx="3.1" ry="2.7"/><ellipse cx="1274.5" cy="1164.5" rx="3.1" ry="2.7"/><ellipse cx="1265.2" cy="1170.7" rx="3.1" ry="2.7"/><ellipse cx="1255.7" cy="1175.7" rx="3.1" ry="2.7"/><ellipse cx="1246.4" cy="1179.4" rx="3.1" ry="2.7"/><ellipse cx="1237.5" cy="1181.7" rx="3.1" ry="2.7"/><ellipse cx="1229.4" cy="1182.4" rx="3.1" ry="2.7"/><ellipse cx="1222.3" cy="1181.6" rx="3.1" ry="2.7"/><ellipse cx="1216.5" cy="1179.3" rx="3.1" ry="2.7"/><ellipse cx="1212.2" cy="1175.5" rx="3.1" ry="2.7"/><ellipse cx="1209.5" cy="1170.4" rx="3.1" ry="2.7"/><ellipse cx="1208.5" cy="1164.2" rx="3.1" ry="2.7"/><ellipse cx="1209.3" cy="1157.0" rx="3.1" ry="2.7"/><ellipse cx="1211.8" cy="1149.2" rx="3.1" ry="2.7"/><ellipse cx="1216.0" cy="1141.0" rx="3.1" ry="2.7"/><ellipse cx="1221.7" cy="1132.6" rx="3.1" ry="2.7"/><ellipse cx="1228.6" cy="1124.4" rx="3.1" ry="2.7"/><ellipse cx="1236.6" cy="1116.6" rx="3.1" ry="2.7"/><ellipse cx="1245.5" cy="1109.5" rx="3.1" ry="2.7"/><ellipse cx="1254.8" cy="1103.3" rx="3.1" ry="2.7"/><ellipse cx="1264.3" cy="1098.3" rx="3.1" ry="2.7"/><ellipse cx="1273.6" cy="1094.6" rx="3.1" ry="2.7"/><ellipse cx="1282.5" cy="1092.3" rx="3.1" ry="2.7"/><ellipse cx="1290.6" cy="1091.6" rx="3.1" ry="2.7"/><ellipse cx="1297.7" cy="1092.4" rx="3.1" ry="2.7"/><ellipse cx="1303.5" cy="1094.7" rx="3.1" ry="2.7"/><ellipse cx="1307.8" cy="1098.5" rx="3.1" ry="2.7"/><ellipse cx="1310.5" cy="1103.6" rx="3.1" ry="2.7"/><ellipse cx="1311.5" cy="1109.8" rx="3.1" ry="2.7"/><ellipse cx="1310.7" cy="1117.0" rx="3.1" ry="2.7"/><ellipse cx="1308.2" cy="1124.8" rx="3.1" ry="2.7"/><ellipse cx="1300.5" cy="1128.6" rx="3.1" ry="2.7"/><ellipse cx="1295.9" cy="1136.7" rx="3.1" ry="2.7"/><ellipse cx="1289.7" cy="1144.8" rx="3.1" ry="2.7"/><ellipse cx="1282.3" cy="1152.6" rx="3.1" ry="2.7"/><ellipse cx="1273.8" cy="1159.7" rx="3.1" ry="2.7"/><ellipse cx="1264.8" cy="1165.8" rx="3.1" ry="2.7"/><ellipse cx="1255.5" cy="1170.7" rx="3.1" ry="2.7"/><ellipse cx="1246.5" cy="1174.0" rx="3.1" ry="2.7"/><ellipse cx="1238.0" cy="1175.8" rx="3.1" ry="2.7"/><ellipse cx="1230.5" cy="1175.9" rx="3.1" ry="2.7"/><ellipse cx="1224.3" cy="1174.2" rx="3.1" ry="2.7"/><ellipse cx="1219.6" cy="1171.0" rx="3.1" ry="2.7"/><ellipse cx="1216.7" cy="1166.2" rx="3.1" ry="2.7"/><ellipse cx="1215.7" cy="1160.2" rx="3.1" ry="2.7"/><ellipse cx="1216.7" cy="1153.2" rx="3.1" ry="2.7"/><ellipse cx="1219.5" cy="1145.4" rx="3.1" ry="2.7"/><ellipse cx="1224.1" cy="1137.3" rx="3.1" ry="2.7"/><ellipse cx="1230.3" cy="1129.2" rx="3.1" ry="2.7"/><ellipse cx="1237.7" cy="1121.4" rx="3.1" ry="2.7"/><ellipse cx="1246.2" cy="1114.3" rx="3.1" ry="2.7"/><ellipse cx="1255.2" cy="1108.2" rx="3.1" ry="2.7"/><ellipse cx="1264.5" cy="1103.3" rx="3.1" ry="2.7"/><ellipse cx="1273.5" cy="1100.0" rx="3.1" ry="2.7"/><ellipse cx="1282.0" cy="1098.2" rx="3.1" ry="2.7"/><ellipse cx="1289.5" cy="1098.1" rx="3.1" ry="2.7"/><ellipse cx="1295.7" cy="1099.8" rx="3.1" ry="2.7"/><ellipse cx="1300.4" cy="1103.0" rx="3.1" ry="2.7"/><ellipse cx="1303.3" cy="1107.8" rx="3.1" ry="2.7"/><ellipse cx="1304.3" cy="1113.8" rx="3.1" ry="2.7"/><ellipse cx="1303.3" cy="1120.8" rx="3.1" ry="2.7"/><ellipse cx="1295.6" cy="1125.9" rx="3.1" ry="2.7"/><ellipse cx="1292.0" cy="1133.5" rx="3.1" ry="2.7"/><ellipse cx="1286.7" cy="1141.4" rx="3.1" ry="2.7"/><ellipse cx="1279.7" cy="1149.1" rx="3.1" ry="2.7"/><ellipse cx="1271.6" cy="1156.0" rx="3.1" ry="2.7"/><ellipse cx="1262.9" cy="1161.8" rx="3.1" ry="2.7"/><ellipse cx="1253.9" cy="1166.2" rx="3.1" ry="2.7"/><ellipse cx="1245.4" cy="1168.9" rx="3.1" ry="2.7"/><ellipse cx="1237.6" cy="1169.7" rx="3.1" ry="2.7"/><ellipse cx="1231.2" cy="1168.6" rx="3.1" ry="2.7"/><ellipse cx="1226.5" cy="1165.7" rx="3.1" ry="2.7"/><ellipse cx="1223.6" cy="1161.2" rx="3.1" ry="2.7"/><ellipse cx="1223.0" cy="1155.2" rx="3.1" ry="2.7"/><ellipse cx="1224.4" cy="1148.1" rx="3.1" ry="2.7"/><ellipse cx="1228.0" cy="1140.5" rx="3.1" ry="2.7"/><ellipse cx="1233.3" cy="1132.6" rx="3.1" ry="2.7"/><ellipse cx="1240.3" cy="1124.9" rx="3.1" ry="2.7"/><ellipse cx="1248.4" cy="1118.0" rx="3.1" ry="2.7"/><ellipse cx="1257.1" cy="1112.2" rx="3.1" ry="2.7"/><ellipse cx="1266.1" cy="1107.8" rx="3.1" ry="2.7"/><ellipse cx="1274.6" cy="1105.1" rx="3.1" ry="2.7"/><ellipse cx="1282.4" cy="1104.3" rx="3.1" ry="2.7"/><ellipse cx="1288.8" cy="1105.4" rx="3.1" ry="2.7"/><ellipse cx="1293.5" cy="1108.3" rx="3.1" ry="2.7"/><ellipse cx="1296.4" cy="1112.8" rx="3.1" ry="2.7"/><ellipse cx="1297.0" cy="1118.8" rx="3.1" ry="2.7"/><ellipse cx="1289.5" cy="1124.9" rx="3.1" ry="2.7"/><ellipse cx="1286.6" cy="1132.7" rx="3.1" ry="2.7"/><ellipse cx="1281.2" cy="1141.0" rx="3.1" ry="2.7"/><ellipse cx="1273.6" cy="1148.8" rx="3.1" ry="2.7"/><ellipse cx="1264.7" cy="1155.5" rx="3.1" ry="2.7"/><ellipse cx="1255.4" cy="1160.4" rx="3.1" ry="2.7"/><ellipse cx="1246.5" cy="1163.0" rx="3.1" ry="2.7"/><ellipse cx="1238.9" cy="1163.1" rx="3.1" ry="2.7"/><ellipse cx="1233.4" cy="1160.6" rx="3.1" ry="2.7"/><ellipse cx="1230.5" cy="1155.8" rx="3.1" ry="2.7"/><ellipse cx="1230.5" cy="1149.1" rx="3.1" ry="2.7"/><ellipse cx="1233.4" cy="1141.3" rx="3.1" ry="2.7"/><ellipse cx="1238.8" cy="1133.0" rx="3.1" ry="2.7"/><ellipse cx="1246.4" cy="1125.2" rx="3.1" ry="2.7"/><ellipse cx="1255.3" cy="1118.5" rx="3.1" ry="2.7"/><ellipse cx="1264.6" cy="1113.6" rx="3.1" ry="2.7"/><ellipse cx="1273.5" cy="1111.0" rx="3.1" ry="2.7"/><ellipse cx="1281.1" cy="1110.9" rx="3.1" ry="2.7"/><ellipse cx="1286.6" cy="1113.4" rx="3.1" ry="2.7"/><ellipse cx="1289.5" cy="1118.2" rx="3.1" ry="2.7"/></g>
<ellipse cx="1264" cy="1144" rx="24" ry="14" transform="rotate(-39 1264 1144)" fill="#fff" stroke-width="1.8"/>
<g fill="#111" stroke="none"><ellipse cx="1254" cy="1154" rx="5" ry="3" transform="rotate(-39 1254 1154)"/><ellipse cx="1270" cy="1146" rx="5" ry="3" transform="rotate(-39 1270 1146)"/><ellipse cx="1265" cy="1134" rx="5" ry="3" transform="rotate(-39 1265 1134)"/></g>
<g stroke-width="2" fill="none">
<path d="M968,1724 C960,1716 961,1700 970,1691 C978,1684 990,1686 997,1694" fill="#fff"/>
<path d="M1087,1642 C1088,1628 1095,1617 1106,1614 C1114,1612 1120,1617 1124,1622" fill="#fff"/>
<path d="M974.5,1707.3 L1136.7,1615 C1145,1611 1152,1616 1156,1624 C1162,1634 1164,1646 1152.7,1657.2 L997.8,1744.3 C990,1750 978,1745 973,1733 C968,1722 968,1712 974.5,1707.3 Z" fill="#fff"/>
<line x1="1093" y1="1639" x2="1125" y2="1621" stroke-width="1.2"/>
<line x1="976" y1="1710" x2="996" y2="1699" stroke-width="1.2"/>
<ellipse cx="987.6" cy="1727.2" rx="15.0" ry="21.5" transform="rotate(-28.0 987.6 1727.2)" fill="#fff" stroke="#111" stroke-width="2.2" />
<ellipse cx="988.5" cy="1727.5" rx="13.2" ry="19.5" transform="rotate(-28.0 988.5 1727.5)" fill="none" stroke="#111" stroke-width="1.3" />
<path d="M1040,1662.9 L1066,1647 L1078.7,1655.5 L1053.6,1669.7 Z" fill="#fff"/>
<path d="M1035.4,1655.5 L1035.4,1672 L1041,1669" fill="#fff"/>
<ellipse cx="1050.5" cy="1653.5" rx="15.2" ry="8.6" transform="rotate(0.0 1050.5 1653.5)" fill="#fff" stroke="#111" stroke-width="2" />
<ellipse cx="1051.0" cy="1655.0" rx="11.0" ry="5.8" transform="rotate(0.0 1051.0 1655.0)" fill="none" stroke="#111" stroke-width="1.6" />
<ellipse cx="1051.0" cy="1657.5" rx="9.0" ry="4.3" transform="rotate(0.0 1051.0 1657.5)" fill="none" stroke="#111" stroke-width="1.4" />
<ellipse cx="1051.0" cy="1660.0" rx="7.0" ry="3.2" transform="rotate(0.0 1051.0 1660.0)" fill="none" stroke="#111" stroke-width="1.4" />
<line x1="1039" y1="1657" x2="1044" y2="1669" stroke-width="1.2"/>
<path d="M1045,1456 L1047,1452 L1050,1455 L1053,1451 L1056,1455 L1059,1453 L1060,1458 Q1052,1463 1045,1458 Z" stroke-width="1.6"/>
<path d="M1043.5,1473 L1043.5,1504 Q1052,1509 1060.5,1504 L1060.5,1473" fill="#111"/>
<ellipse cx="1052.0" cy="1472.5" rx="8.5" ry="3.8" transform="rotate(0.0 1052.0 1472.5)" fill="#111" stroke="#111" stroke-width="2" />
<ellipse cx="1052.0" cy="1472.5" rx="2.0" ry="1.0" transform="rotate(0.0 1052.0 1472.5)" fill="#fff" stroke="#fff" stroke-width="1" />
<line x1="1047.5" y1="1478" x2="1047.5" y2="1502" stroke="#fff" stroke-width="1.4"/>
<line x1="1052" y1="1478" x2="1052" y2="1502" stroke="#fff" stroke-width="1.4"/>
<line x1="1056.5" y1="1478" x2="1056.5" y2="1502" stroke="#fff" stroke-width="1.4"/>
<path d="M1041,1518 L1041,1561 Q1052,1568 1063.5,1561 L1063.5,1518" fill="#fff"/>
<ellipse cx="1052.0" cy="1518.0" rx="11.5" ry="4.5" transform="rotate(0.0 1052.0 1518.0)" fill="#fff" stroke="#111" stroke-width="2" />
<path d="M1041,1521 L1041,1533 M1047,1523 L1047,1537 M1057,1523 L1057,1537 M1063.5,1521 L1063.5,1533" stroke-width="1.3"/>
<path d="M1041,1535 Q1052,1540 1063.5,1535" stroke-width="3"/>
<path d="M1041,1539 Q1052,1544 1063.5,1539" stroke-width="1.4"/>
<path d="M1041,1550 Q1052,1555 1063.5,1550" stroke-width="3"/>
<path d="M1041,1554 Q1052,1559 1063.5,1554" stroke-width="1.4"/>
<ellipse cx="1052.5" cy="1582.0" rx="12.5" ry="6.8" transform="rotate(0.0 1052.5 1582.0)" fill="none" stroke="#111" stroke-width="3" />
<ellipse cx="1052.5" cy="1582.0" rx="9.5" ry="4.4" transform="rotate(0.0 1052.5 1582.0)" fill="none" stroke="#111" stroke-width="1.3" />
<ellipse cx="1052.5" cy="1606.5" rx="12.5" ry="6.8" transform="rotate(0.0 1052.5 1606.5)" fill="none" stroke="#111" stroke-width="3" />
<ellipse cx="1052.5" cy="1606.5" rx="9.5" ry="4.4" transform="rotate(0.0 1052.5 1606.5)" fill="none" stroke="#111" stroke-width="1.3" />
<ellipse cx="1052.5" cy="1629.0" rx="9.6" ry="5.6" transform="rotate(0.0 1052.5 1629.0)" fill="none" stroke="#111" stroke-width="3.2" />
<ellipse cx="1065.0" cy="1727.8" rx="10.2" ry="6.3" transform="rotate(0.0 1065.0 1727.8)" fill="none" stroke="#111" stroke-width="3.2" />
<path d="M1052.4,1750 L1052.4,1769 Q1065,1776 1077.7,1769 L1077.7,1750" fill="#fff"/>
<ellipse cx="1065.0" cy="1748.0" rx="11.0" ry="5.0" transform="rotate(0.0 1065.0 1748.0)" fill="#fff" stroke="#111" stroke-width="2" />
<ellipse cx="1065.0" cy="1748.0" rx="6.0" ry="2.6" transform="rotate(0.0 1065.0 1748.0)" fill="none" stroke="#111" stroke-width="1.3" />
<path d="M1052.4,1753 Q1065,1758 1077.7,1753 M1052.4,1756 Q1065,1761 1077.7,1756" stroke-width="1.3"/>
<path d="M1052.4,1760 Q1065,1765 1077.7,1760" stroke-width="1.6"/>
<path d="M1058,1762 L1058,1773 M1072,1762 L1072,1773" stroke-width="1.3"/>
<path d="M1061,1764 Q1070,1766 1077.7,1763" stroke-width="1"/>
<path d="M1061,1767 Q1070,1769 1077.7,1766" stroke-width="1"/>
<path d="M1061,1770 Q1070,1772 1077.7,1769" stroke-width="1"/>
<ellipse cx="1065.0" cy="1786.0" rx="10.0" ry="5.5" transform="rotate(0.0 1065.0 1786.0)" fill="none" stroke="#666" stroke-width="1.5" />
<ellipse cx="1065.0" cy="1786.0" rx="8.0" ry="3.8" transform="rotate(0.0 1065.0 1786.0)" fill="none" stroke="#888" stroke-width="1" />
</g>
<g stroke-width="2" fill="none">
<path d="M1227.4,1590 L1238,1582" stroke-width="6.5" stroke-linecap="round"/>
<ellipse cx="1223.8" cy="1594.8" rx="8.0" ry="15.0" transform="rotate(153.6 1223.8 1594.8)" fill="#fff" stroke="#111" stroke-width="2.2" />
<path d="M1217.1,1581.4 L1165.1,1606.6 L1178.9,1634.4 L1230.5,1608.2 Z" fill="#fff" stroke="none"/>
<line x1="1217.1" y1="1581.4" x2="1165.1" y2="1606.6" stroke-width="2.2"/>
<line x1="1230.5" y1="1608.2" x2="1178.9" y2="1634.4" stroke-width="2.2"/>
<ellipse cx="1223.8" cy="1594.8" rx="8.0" ry="15.0" transform="rotate(-30.5 1223.8 1594.8)" fill="#fff" stroke="#111" stroke-width="2.4" />
<path d="M1210.8,1584.2 L1211.8,1583.8 L1213.0,1583.7 L1214.2,1583.8 L1215.5,1584.1 L1216.8,1584.7 L1218.2,1585.5 L1219.5,1586.5 L1220.8,1587.8 L1222.0,1589.1 L1223.2,1590.7 L1224.2,1592.3 L1225.2,1594.1 L1226.0,1595.9 L1226.7,1597.8 L1227.2,1599.6 L1227.6,1601.5 L1227.8,1603.2 L1227.8,1604.9 L1227.6,1606.5 L1227.3,1607.9 L1226.8,1609.1 L1226.1,1610.1 L1225.3,1611.0 L1224.4,1611.6" stroke-width="4.5"/>
<path d="M1199.9,1589.6 L1201.0,1589.2 L1202.1,1589.1 L1203.3,1589.2 L1204.6,1589.5 L1205.9,1590.1 L1207.3,1590.9 L1208.6,1591.9 L1209.9,1593.2 L1211.1,1594.5 L1212.3,1596.1 L1213.4,1597.7 L1214.3,1599.5 L1215.1,1601.3 L1215.8,1603.2 L1216.3,1605.0 L1216.7,1606.9 L1216.9,1608.6 L1216.9,1610.3 L1216.7,1611.9 L1216.4,1613.3 L1215.9,1614.5 L1215.2,1615.5 L1214.4,1616.4 L1213.5,1617.0" stroke-width="5"/>
<path d="M1190.1,1594.5 L1191.1,1594.1 L1192.3,1593.9 L1193.5,1594.1 L1194.8,1594.4 L1196.1,1595.0 L1197.4,1595.8 L1198.8,1596.8 L1200.1,1598.0 L1201.3,1599.4 L1202.5,1601.0 L1203.5,1602.6 L1204.5,1604.4 L1205.3,1606.2 L1206.0,1608.1 L1206.5,1609.9 L1206.9,1611.7 L1207.0,1613.5 L1207.1,1615.2 L1206.9,1616.7 L1206.6,1618.1 L1206.1,1619.4 L1205.4,1620.4 L1204.6,1621.3 L1203.7,1621.9" stroke-width="3"/>
<path d="M1179.7,1599.6 L1180.8,1599.2 L1181.9,1599.1 L1183.1,1599.2 L1184.4,1599.5 L1185.7,1600.1 L1187.1,1600.9 L1188.4,1602.0 L1189.7,1603.2 L1190.9,1604.6 L1192.1,1606.1 L1193.2,1607.8 L1194.1,1609.5 L1194.9,1611.3 L1195.6,1613.2 L1196.1,1615.1 L1196.5,1616.9 L1196.7,1618.7 L1196.7,1620.3 L1196.5,1621.9 L1196.2,1623.3 L1195.7,1624.5 L1195.0,1625.6 L1194.2,1626.4 L1193.3,1627.0" stroke-width="5"/>
<ellipse cx="1169.6" cy="1621.5" rx="9.0" ry="15.0" transform="rotate(-30.5 1169.6 1621.5)" fill="#fff" stroke="#111" stroke-width="4.5" />
<ellipse cx="1169.6" cy="1621.5" rx="6.0" ry="10.5" transform="rotate(-30.5 1169.6 1621.5)" fill="none" stroke="#111" stroke-width="2.4" />
<ellipse cx="1168.5" cy="1622.0" rx="3.0" ry="5.0" transform="rotate(-30.5 1168.5 1622.0)" fill="none" stroke="#111" stroke-width="1.6" />
<ellipse cx="1168.5" cy="1622.0" rx="1.3" ry="2.0" transform="rotate(-30.5 1168.5 1622.0)" fill="#111" stroke="#111" stroke-width="1" />
<path d="M1258,1517 C1256,1508 1261,1501 1267,1502 C1274,1504 1279,1516 1279.2,1526.9" stroke-width="2.4"/>
<ellipse cx="1270.5" cy="1562.0" rx="10.0" ry="18.5" transform="rotate(150.6 1270.5 1562.0)" fill="#fff" stroke="#111" stroke-width="2" />
<path d="M1261.4,1545.9 L1248.1,1552.2 L1267.3,1586.2 L1279.6,1578.1 Z" fill="#fff" stroke="none"/>
<line x1="1261.4" y1="1545.9" x2="1248.1" y2="1552.2" stroke-width="2"/>
<line x1="1279.6" y1="1578.1" x2="1267.3" y2="1586.2" stroke-width="2"/>
<ellipse cx="1257.7" cy="1569.2" rx="11.0" ry="19.5" transform="rotate(150.6 1257.7 1569.2)" fill="#fff" stroke="#111" stroke-width="2" />
<ellipse cx="1257.7" cy="1569.2" rx="8.0" ry="15.0" transform="rotate(-30.5 1257.7 1569.2)" fill="#fff" stroke="#111" stroke-width="1.8" />
<ellipse cx="1262.0" cy="1567.0" rx="6.0" ry="12.0" transform="rotate(-30.5 1262.0 1567.0)" fill="none" stroke="#111" stroke-width="1.2" />
<path d="M1268,1550 L1279,1556 L1281,1575 L1276,1584" stroke-width="2.2"/>
<ellipse cx="1291.7" cy="1551.3" rx="9.3" ry="17.5" transform="rotate(-30.5 1291.7 1551.3)" fill="none" stroke="#111" stroke-width="2.8" />
<ellipse cx="1352.0" cy="1523.0" rx="9.0" ry="14.5" transform="rotate(156.2 1352.0 1523.0)" fill="#fff" stroke="#111" stroke-width="2.2" />
<path d="M1346.2,1509.7 L1311.7,1517.8 L1328.7,1556.2 L1357.8,1536.3 Z" fill="#fff" stroke="none"/>
<line x1="1346.2" y1="1509.7" x2="1311.7" y2="1517.8" stroke-width="2.2"/>
<line x1="1357.8" y1="1536.3" x2="1328.7" y2="1556.2" stroke-width="2.2"/>
<path d="M1335.4,1511.2 L1336.8,1510.7 L1338.3,1510.6 L1339.8,1510.7 L1341.4,1511.1 L1343.0,1511.8 L1344.6,1512.7 L1346.2,1513.9 L1347.7,1515.4 L1349.1,1517.0 L1350.4,1518.8 L1351.5,1520.7 L1352.5,1522.8 L1353.4,1524.9 L1354.0,1527.1 L1354.5,1529.2 L1354.7,1531.4 L1354.7,1533.4 L1354.6,1535.4 L1354.2,1537.2 L1353.6,1538.9 L1352.8,1540.3 L1351.9,1541.5 L1350.8,1542.5 L1349.5,1543.2" stroke-width="2.4"/>
<path d="M1330.2,1512.4 L1331.6,1511.9 L1333.1,1511.8 L1334.7,1512.0 L1336.3,1512.4 L1337.9,1513.2 L1339.5,1514.2 L1341.1,1515.5 L1342.7,1517.0 L1344.1,1518.7 L1345.5,1520.6 L1346.7,1522.7 L1347.8,1524.9 L1348.6,1527.1 L1349.3,1529.4 L1349.8,1531.7 L1350.1,1533.9 L1350.2,1536.1 L1350.1,1538.1 L1349.7,1540.0 L1349.2,1541.7 L1348.4,1543.2 L1347.5,1544.5 L1346.4,1545.5 L1345.1,1546.2" stroke-width="1.4"/>
<ellipse cx="1320.2" cy="1537.0" rx="13.5" ry="21.0" transform="rotate(-30.5 1320.2 1537.0)" fill="#fff" stroke="#111" stroke-width="2.6" />
<ellipse cx="1320.2" cy="1537.0" rx="10.5" ry="17.0" transform="rotate(-30.5 1320.2 1537.0)" fill="none" stroke="#111" stroke-width="1.8" />
<path d="M1313.7,1528.5 L1319.7,1525.0" stroke-width="3"/>
<path d="M1315.8,1532.1 L1321.8,1528.6" stroke-width="3"/>
<path d="M1317.9,1535.7 L1323.9,1532.2" stroke-width="3"/>
<path d="M1320.1,1539.3 L1326.1,1535.8" stroke-width="3"/>
<path d="M1322.2,1542.9 L1328.2,1539.4" stroke-width="3"/>
<path d="M1324.3,1546.5 L1330.3,1543.0" stroke-width="3"/>
<path d="M1316,1529 L1328,1550" stroke-width="1.3" stroke-dasharray="1.5,1.5"/>
<path d="M1367,1505 L1393,1490.5" stroke-width="12" stroke-linecap="round"/>
<path d="M1369,1500 L1391,1487.5 M1372,1508 L1394,1495.5" stroke="#555" stroke-width="0.8"/>
<ellipse cx="1393.0" cy="1490.5" rx="5.5" ry="6.8" transform="rotate(-29.4 1393.0 1490.5)" fill="#fff" stroke="#111" stroke-width="2" />
<path d="M1396.3,1496.4 L1404.3,1491.9 L1397.7,1480.1 L1389.7,1484.6 Z" fill="#fff" stroke="none"/>
<line x1="1396.3" y1="1496.4" x2="1404.3" y2="1491.9" stroke-width="2"/>
<line x1="1389.7" y1="1484.6" x2="1397.7" y2="1480.1" stroke-width="2"/>
<ellipse cx="1401.0" cy="1486.0" rx="4.5" ry="6.8" transform="rotate(-29.4 1401.0 1486.0)" fill="#fff" stroke="#111" stroke-width="2" />
<ellipse cx="1401.0" cy="1486.0" rx="4.2" ry="6.2" transform="rotate(-30.5 1401.0 1486.0)" fill="#fff" stroke="#111" stroke-width="1.8" />
<path d="M1397.5,1484 L1401,1490" stroke-width="1.2"/>
<path d="M1410,1482 L1422,1475.5" stroke-width="6" stroke-linecap="round"/>
<path d="M1410,1482 L1422,1475.5" stroke="#fff" stroke-width="4" stroke-dasharray="0.8,1.6"/>
<ellipse cx="1422.0" cy="1475.5" rx="3.0" ry="4.5" transform="rotate(-28.6 1422.0 1475.5)" fill="#fff" stroke="#111" stroke-width="1.8" />
<path d="M1424.2,1479.5 L1429.7,1476.5 L1425.3,1468.5 L1419.8,1471.5 Z" fill="#fff" stroke="none"/>
<line x1="1424.2" y1="1479.5" x2="1429.7" y2="1476.5" stroke-width="1.8"/>
<line x1="1419.8" y1="1471.5" x2="1425.3" y2="1468.5" stroke-width="1.8"/>
<ellipse cx="1427.5" cy="1472.5" rx="3.0" ry="4.5" transform="rotate(-28.6 1427.5 1472.5)" fill="#fff" stroke="#111" stroke-width="1.8" />
<path d="M1443,1436 L1490,1410 C1500,1406 1507,1414 1507,1428 C1507,1440 1505,1446 1500,1449 L1460,1474" fill="#fff"/>
<ellipse cx="1452.5" cy="1457.5" rx="14.0" ry="22.0" transform="rotate(-30.5 1452.5 1457.5)" fill="#fff" stroke="#111" stroke-width="2.6" />
<ellipse cx="1454.0" cy="1457.0" rx="11.5" ry="19.5" transform="rotate(-30.5 1454.0 1457.0)" fill="none" stroke="#111" stroke-width="1.3" />
<path d="M1468,1445 L1461,1450 M1459,1449 L1463,1455" stroke-width="1.6"/>
<ellipse cx="1463" cy="1452" rx="2.2" ry="3" fill="#fff" stroke-width="1.5"/>
<path d="M1481,1438 L1501,1426.5" stroke-width="8" stroke-linecap="round"/>
<path d="M1481,1438 L1501,1426.5" stroke="#fff" stroke-width="4.5" stroke-linecap="round"/>
<path d="M1482,1432 L1486,1441" stroke-width="1.5"/>
</g>
<g stroke-width="2" fill="none">
<ellipse cx="955.0" cy="1744.0" rx="10.0" ry="18.5" transform="rotate(150.8 955.0 1744.0)" fill="#fff" stroke="#111" stroke-width="2" />
<path d="M946.0,1727.9 L921.0,1741.9 L939.0,1774.1 L964.0,1760.1 Z" fill="#fff" stroke="none"/>
<line x1="946.0" y1="1727.9" x2="921.0" y2="1741.9" stroke-width="2"/>
<line x1="964.0" y1="1760.1" x2="939.0" y2="1774.1" stroke-width="2"/>
<path d="M932.2,1735.6 L933.4,1735.1 L934.8,1734.8 L936.2,1734.9 L937.8,1735.3 L939.4,1735.9 L941.0,1736.8 L942.7,1738.0 L944.3,1739.4 L945.9,1741.0 L947.3,1742.8 L948.7,1744.7 L950.0,1746.8 L951.1,1749.0 L952.0,1751.2 L952.8,1753.4 L953.3,1755.5 L953.7,1757.6 L953.8,1759.7 L953.7,1761.5 L953.4,1763.2 L952.9,1764.7 L952.2,1766.0 L951.4,1767.1 L950.3,1767.8" stroke-width="2"/>
<ellipse cx="928.0" cy="1759.0" rx="8.0" ry="16.5" transform="rotate(-30.0 928.0 1759.0)" fill="none" stroke="#111" stroke-width="5" />
<ellipse cx="922.0" cy="1763.0" rx="6.0" ry="12.0" transform="rotate(-30.0 922.0 1763.0)" fill="#fff" stroke="#111" stroke-width="2" />
<ellipse cx="922.0" cy="1763.0" rx="6.0" ry="12.0" transform="rotate(-30.0 922.0 1763.0)" fill="none" stroke="#111" stroke-width="3.5" />
<path d="M915.4,1757.8 L921.4,1754.3" stroke-width="2.2"/>
<path d="M916.6,1759.9 L922.6,1756.4" stroke-width="2.2"/>
<path d="M917.8,1761.9 L923.8,1758.4" stroke-width="2.2"/>
<path d="M919.0,1764.0 L925.0,1760.5" stroke-width="2.2"/>
<path d="M920.2,1766.1 L926.2,1762.6" stroke-width="2.2"/>
<path d="M921.4,1768.1 L927.4,1764.6" stroke-width="2.2"/>
<path d="M922.6,1770.2 L928.6,1766.7" stroke-width="2.2"/>
<ellipse cx="915.0" cy="1767.0" rx="4.5" ry="8.0" transform="rotate(-30.0 915.0 1767.0)" fill="#fff" stroke="#111" stroke-width="4" />
<path d="M903,1776 L912,1771" stroke-width="6.5" stroke-linecap="round"/>
<ellipse cx="882.0" cy="1787.0" rx="11.0" ry="17.0" transform="rotate(150.3 882.0 1787.0)" fill="#fff" stroke="#111" stroke-width="2" />
<path d="M873.6,1772.2 L865.8,1774.9 L884.2,1807.1 L890.4,1801.8 Z" fill="#fff" stroke="none"/>
<line x1="873.6" y1="1772.2" x2="865.8" y2="1774.9" stroke-width="2"/>
<line x1="890.4" y1="1801.8" x2="884.2" y2="1807.1" stroke-width="2"/>
<ellipse cx="875.0" cy="1791.0" rx="12.5" ry="18.5" transform="rotate(150.3 875.0 1791.0)" fill="#fff" stroke="#111" stroke-width="2" />
<ellipse cx="875.0" cy="1791.0" rx="9.5" ry="15.5" transform="rotate(-30.0 875.0 1791.0)" fill="none" stroke="#111" stroke-width="1.5" />
<path d="M882,1776 L885,1781 M886,1796 L888,1800" stroke-width="1.8"/>
<ellipse cx="844.6" cy="1809.3" rx="10.8" ry="17.5" transform="rotate(-30.0 844.6 1809.3)" fill="none" stroke="#111" stroke-width="2.8" />
<ellipse cx="807.0" cy="1830.0" rx="16.0" ry="24.0" transform="rotate(149.5 807.0 1830.0)" fill="#fff" stroke="#111" stroke-width="2" />
<path d="M794.8,1809.3 L781.4,1825.3 L798.6,1854.7 L819.2,1850.7 Z" fill="#fff" stroke="none"/>
<line x1="794.8" y1="1809.3" x2="781.4" y2="1825.3" stroke-width="2"/>
<line x1="819.2" y1="1850.7" x2="798.6" y2="1854.7" stroke-width="2"/>
<ellipse cx="797.0" cy="1836.0" rx="9.0" ry="19.0" transform="rotate(-30.0 797.0 1836.0)" fill="none" stroke="#111" stroke-width="3.2" />
<ellipse cx="788.0" cy="1841.0" rx="9.0" ry="15.5" transform="rotate(-30.0 788.0 1841.0)" fill="#fff" stroke="#111" stroke-width="2" />
<ellipse cx="786.0" cy="1842.0" rx="6.5" ry="11.0" transform="rotate(-30.0 786.0 1842.0)" fill="none" stroke="#111" stroke-width="2.4" />
<path d="M781,1846 L792,1838 M786,1835 L786,1849" stroke-width="1.8"/>
<path d="M781,1857 L787,1854" stroke-width="3.5" stroke-linecap="round"/>
<path d="M748,1861 L771,1849" stroke-width="11" stroke-linecap="round"/>
<ellipse cx="745.0" cy="1863.0" rx="5.0" ry="7.0" transform="rotate(153.4 745.0 1863.0)" fill="#fff" stroke="#111" stroke-width="2" />
<path d="M741.9,1856.7 L733.9,1860.7 L740.1,1873.3 L748.1,1869.3 Z" fill="#fff" stroke="none"/>
<line x1="741.9" y1="1856.7" x2="733.9" y2="1860.7" stroke-width="2"/>
<line x1="748.1" y1="1869.3" x2="740.1" y2="1873.3" stroke-width="2"/>
<ellipse cx="737.0" cy="1867.0" rx="5.0" ry="7.0" transform="rotate(153.4 737.0 1867.0)" fill="#fff" stroke="#111" stroke-width="2" />
<rect x="739" y="1862" width="5" height="5" fill="#fff" stroke-width="1.2" transform="rotate(-30 741.5 1864.5)"/>
<path d="M710,1886.5 L724,1879" stroke-width="5" stroke-dasharray="1.3,1.1"/>
<ellipse cx="710.0" cy="1886.5" rx="3.0" ry="4.5" transform="rotate(153.4 710.0 1886.5)" fill="#fff" stroke="#111" stroke-width="1.8" />
<path d="M708.0,1882.5 L703.0,1885.0 L707.0,1893.0 L712.0,1890.5 Z" fill="#fff" stroke="none"/>
<line x1="708.0" y1="1882.5" x2="703.0" y2="1885.0" stroke-width="1.8"/>
<line x1="712.0" y1="1890.5" x2="707.0" y2="1893.0" stroke-width="1.8"/>
<ellipse cx="705.0" cy="1889.0" rx="3.0" ry="4.5" transform="rotate(153.4 705.0 1889.0)" fill="#fff" stroke="#111" stroke-width="1.8" />
<path d="M703,1887 L707,1891" stroke-width="1.1"/>
<path d="M625.6,1911 L665.2,1887.7 C678,1882 690,1900 690,1915 C690,1922 688,1926 685.4,1927.3 L642,1949.8" fill="#fff"/>
<ellipse cx="635.7" cy="1930.5" rx="15.0" ry="22.0" transform="rotate(-30.0 635.7 1930.5)" fill="#fff" stroke="#111" stroke-width="2.2" />
<path d="M651,1917 L648,1937" stroke-width="1.3"/>
<path d="M646,1922 L664,1910 C668,1908 670,1913 667,1916 L650,1927 Z" fill="#fff" stroke-width="1.6"/>
<path d="M675.5,1902.5 L681.5,1899" stroke-width="2.6"/>
</g>
<g stroke-width="2" fill="none">
<path d="M1229.8,1298 L1229.8,1305 Q1237.8,1310 1245.8,1305 L1245.8,1298" fill="#fff"/>
<path d="M1229.8,1301 Q1237.8,1305 1245.8,1301 M1229.8,1303.5 Q1237.8,1307.5 1245.8,1303.5" stroke-width="1.2"/>
<ellipse cx="1237.8" cy="1298.0" rx="8.0" ry="4.0" transform="rotate(0.0 1237.8 1298.0)" fill="#fff" stroke="#111" stroke-width="2" />
<ellipse cx="1237.8" cy="1298.0" rx="4.5" ry="2.0" transform="rotate(0.0 1237.8 1298.0)" fill="#555" stroke="#111" stroke-width="1.6" />
<path d="M1230,1320 L1230,1326 Q1236.5,1330 1243,1326 L1243,1320" fill="#fff"/>
<ellipse cx="1236.5" cy="1320.0" rx="6.5" ry="3.2" transform="rotate(0.0 1236.5 1320.0)" fill="#333" stroke="#111" stroke-width="2" />
<path d="M1230,1324 Q1236.5,1327 1243,1324" stroke-width="1.5"/>
<ellipse cx="1236.5" cy="1340.0" rx="9.3" ry="4.8" transform="rotate(0.0 1236.5 1340.0)" fill="none" stroke="#888" stroke-width="1.3" />
<path d="M1227.5,1342 Q1236.5,1347 1245.5,1342" stroke-width="1" stroke="#aaa"/>
<ellipse cx="618.9" cy="1361.0" rx="5.0" ry="11.5" transform="rotate(24.7 618.9 1361.0)" fill="#fff" stroke="#111" stroke-width="2" />
<path d="M614.1,1371.4 L635.8,1381.4 L645.4,1360.5 L623.7,1350.6 Z" fill="#fff" stroke="none"/>
<line x1="614.1" y1="1371.4" x2="635.8" y2="1381.4" stroke-width="2"/>
<line x1="623.7" y1="1350.6" x2="645.4" y2="1360.5" stroke-width="2"/>
<ellipse cx="621.5" cy="1362.2" rx="4.5" ry="11.3" transform="rotate(25.0 621.5 1362.2)" fill="none" stroke="#111" stroke-width="1.3" />
<ellipse cx="623.8" cy="1363.3" rx="4.5" ry="11.3" transform="rotate(25.0 623.8 1363.3)" fill="none" stroke="#111" stroke-width="1.3" />
<ellipse cx="626.1" cy="1364.3" rx="4.5" ry="11.3" transform="rotate(25.0 626.1 1364.3)" fill="none" stroke="#111" stroke-width="1.3" />
<ellipse cx="628.5" cy="1365.4" rx="4.5" ry="11.3" transform="rotate(25.0 628.5 1365.4)" fill="none" stroke="#111" stroke-width="1.3" />
<ellipse cx="630.8" cy="1366.5" rx="4.5" ry="11.3" transform="rotate(25.0 630.8 1366.5)" fill="none" stroke="#111" stroke-width="1.3" />
<ellipse cx="633.1" cy="1367.5" rx="4.5" ry="11.3" transform="rotate(25.0 633.1 1367.5)" fill="none" stroke="#111" stroke-width="1.3" />
<ellipse cx="635.4" cy="1368.6" rx="4.5" ry="11.3" transform="rotate(25.0 635.4 1368.6)" fill="none" stroke="#111" stroke-width="1.3" />
<ellipse cx="637.8" cy="1369.7" rx="4.5" ry="11.3" transform="rotate(25.0 637.8 1369.7)" fill="none" stroke="#111" stroke-width="1.3" />
<ellipse cx="640.6" cy="1371.0" rx="5.0" ry="10.0" transform="rotate(24.7 640.6 1371.0)" fill="#fff" stroke="#111" stroke-width="1.8" />
<path d="M636.4,1380.1 L641.6,1382.5 L650.0,1364.3 L644.8,1361.9 Z" fill="#fff" stroke="none"/>
<line x1="636.4" y1="1380.1" x2="641.6" y2="1382.5" stroke-width="1.8"/>
<line x1="644.8" y1="1361.9" x2="650.0" y2="1364.3" stroke-width="1.8"/>
<ellipse cx="645.8" cy="1373.4" rx="6.0" ry="13.0" transform="rotate(24.7 645.8 1373.4)" fill="#fff" stroke="#111" stroke-width="2" />
<path d="M640.3,1385.2 L664.1,1398.9 L677.1,1370.7 L651.2,1361.6 Z" fill="#fff" stroke="none"/>
<line x1="640.3" y1="1385.2" x2="664.1" y2="1398.9" stroke-width="2"/>
<line x1="651.2" y1="1361.6" x2="677.1" y2="1370.7" stroke-width="2"/>
<ellipse cx="647.9" cy="1374.3" rx="7.0" ry="14.5" transform="rotate(25.0 647.9 1374.3)" fill="none" stroke="#111" stroke-width="1.3" />
<ellipse cx="650.7" cy="1375.6" rx="7.0" ry="14.5" transform="rotate(25.0 650.7 1375.6)" fill="none" stroke="#111" stroke-width="1.3" />
<ellipse cx="653.5" cy="1376.9" rx="7.0" ry="14.5" transform="rotate(25.0 653.5 1376.9)" fill="none" stroke="#111" stroke-width="1.3" />
<ellipse cx="656.4" cy="1378.3" rx="7.0" ry="14.5" transform="rotate(25.0 656.4 1378.3)" fill="none" stroke="#111" stroke-width="1.3" />
<ellipse cx="659.2" cy="1379.6" rx="7.0" ry="14.5" transform="rotate(25.0 659.2 1379.6)" fill="none" stroke="#111" stroke-width="1.3" />
<ellipse cx="662.1" cy="1380.9" rx="7.0" ry="14.5" transform="rotate(25.0 662.1 1380.9)" fill="none" stroke="#111" stroke-width="1.3" />
<ellipse cx="664.9" cy="1382.2" rx="7.0" ry="14.5" transform="rotate(25.0 664.9 1382.2)" fill="none" stroke="#111" stroke-width="1.3" />
<ellipse cx="670.6" cy="1384.8" rx="8.5" ry="15.5" transform="rotate(25.0 670.6 1384.8)" fill="#fff" stroke="#111" stroke-width="2.4" />
<ellipse cx="671.6" cy="1385.3" rx="6.0" ry="11.5" transform="rotate(25.0 671.6 1385.3)" fill="none" stroke="#111" stroke-width="2" />
<ellipse cx="494.3" cy="1432.5" rx="5.0" ry="11.5" transform="rotate(24.8 494.3 1432.5)" fill="#fff" stroke="#111" stroke-width="2" />
<path d="M489.5,1442.9 L511.2,1453.0 L520.8,1432.1 L499.1,1422.1 Z" fill="#fff" stroke="none"/>
<line x1="489.5" y1="1442.9" x2="511.2" y2="1453.0" stroke-width="2"/>
<line x1="499.1" y1="1422.1" x2="520.8" y2="1432.1" stroke-width="2"/>
<ellipse cx="496.9" cy="1433.7" rx="4.5" ry="11.3" transform="rotate(25.0 496.9 1433.7)" fill="none" stroke="#111" stroke-width="1.3" />
<ellipse cx="499.2" cy="1434.8" rx="4.5" ry="11.3" transform="rotate(25.0 499.2 1434.8)" fill="none" stroke="#111" stroke-width="1.3" />
<ellipse cx="501.5" cy="1435.8" rx="4.5" ry="11.3" transform="rotate(25.0 501.5 1435.8)" fill="none" stroke="#111" stroke-width="1.3" />
<ellipse cx="503.9" cy="1436.9" rx="4.5" ry="11.3" transform="rotate(25.0 503.9 1436.9)" fill="none" stroke="#111" stroke-width="1.3" />
<ellipse cx="506.2" cy="1438.0" rx="4.5" ry="11.3" transform="rotate(25.0 506.2 1438.0)" fill="none" stroke="#111" stroke-width="1.3" />
<ellipse cx="508.5" cy="1439.1" rx="4.5" ry="11.3" transform="rotate(25.0 508.5 1439.1)" fill="none" stroke="#111" stroke-width="1.3" />
<ellipse cx="510.8" cy="1440.1" rx="4.5" ry="11.3" transform="rotate(25.0 510.8 1440.1)" fill="none" stroke="#111" stroke-width="1.3" />
<ellipse cx="513.2" cy="1441.2" rx="4.5" ry="11.3" transform="rotate(25.0 513.2 1441.2)" fill="none" stroke="#111" stroke-width="1.3" />
<ellipse cx="516.0" cy="1442.5" rx="5.0" ry="10.0" transform="rotate(24.8 516.0 1442.5)" fill="#fff" stroke="#111" stroke-width="1.8" />
<path d="M511.8,1451.6 L517.0,1454.0 L525.4,1435.9 L520.2,1433.5 Z" fill="#fff" stroke="none"/>
<line x1="511.8" y1="1451.6" x2="517.0" y2="1454.0" stroke-width="1.8"/>
<line x1="520.2" y1="1433.5" x2="525.4" y2="1435.9" stroke-width="1.8"/>
<ellipse cx="521.2" cy="1444.9" rx="6.0" ry="13.0" transform="rotate(24.8 521.2 1444.9)" fill="#fff" stroke="#111" stroke-width="2" />
<path d="M515.7,1456.7 L539.5,1470.5 L552.5,1442.3 L526.6,1433.1 Z" fill="#fff" stroke="none"/>
<line x1="515.7" y1="1456.7" x2="539.5" y2="1470.5" stroke-width="2"/>
<line x1="526.6" y1="1433.1" x2="552.5" y2="1442.3" stroke-width="2"/>
<ellipse cx="523.3" cy="1445.9" rx="7.0" ry="14.5" transform="rotate(25.0 523.3 1445.9)" fill="none" stroke="#111" stroke-width="1.3" />
<ellipse cx="526.1" cy="1447.2" rx="7.0" ry="14.5" transform="rotate(25.0 526.1 1447.2)" fill="none" stroke="#111" stroke-width="1.3" />
<ellipse cx="528.9" cy="1448.5" rx="7.0" ry="14.5" transform="rotate(25.0 528.9 1448.5)" fill="none" stroke="#111" stroke-width="1.3" />
<ellipse cx="531.8" cy="1449.8" rx="7.0" ry="14.5" transform="rotate(25.0 531.8 1449.8)" fill="none" stroke="#111" stroke-width="1.3" />
<ellipse cx="534.6" cy="1451.1" rx="7.0" ry="14.5" transform="rotate(25.0 534.6 1451.1)" fill="none" stroke="#111" stroke-width="1.3" />
<ellipse cx="537.5" cy="1452.5" rx="7.0" ry="14.5" transform="rotate(25.0 537.5 1452.5)" fill="none" stroke="#111" stroke-width="1.3" />
<ellipse cx="540.3" cy="1453.8" rx="7.0" ry="14.5" transform="rotate(25.0 540.3 1453.8)" fill="none" stroke="#111" stroke-width="1.3" />
<ellipse cx="546.0" cy="1456.4" rx="8.5" ry="15.5" transform="rotate(25.0 546.0 1456.4)" fill="#fff" stroke="#111" stroke-width="2.4" />
<ellipse cx="547.0" cy="1456.9" rx="6.0" ry="11.5" transform="rotate(25.0 547.0 1456.9)" fill="none" stroke="#111" stroke-width="2" />
<ellipse cx="713.0" cy="1408.7" rx="5.0" ry="10.0" transform="rotate(32.8 713.0 1408.7)" fill="#fff" stroke="#111" stroke-width="2.4" />
<path d="M707.6,1417.1 L725.0,1430.7 L738.0,1410.5 L718.4,1400.3 Z" fill="#fff" stroke="none"/>
<line x1="707.6" y1="1417.1" x2="725.0" y2="1430.7" stroke-width="2.4"/>
<line x1="718.4" y1="1400.3" x2="738.0" y2="1410.5" stroke-width="2.4"/>
<ellipse cx="713.0" cy="1408.7" rx="5.0" ry="10.0" transform="rotate(25.0 713.0 1408.7)" fill="#111" stroke="#111" stroke-width="3.5" />
<ellipse cx="731.5" cy="1420.6" rx="7.0" ry="12.5" transform="rotate(25.0 731.5 1420.6)" fill="#fff" stroke="#111" stroke-width="3.2" />
<ellipse cx="732.5" cy="1420.6" rx="4.5" ry="7.5" transform="rotate(25.0 732.5 1420.6)" fill="none" stroke="#111" stroke-width="2" />
<ellipse cx="587.0" cy="1480.2" rx="5.0" ry="10.0" transform="rotate(32.4 587.0 1480.2)" fill="#fff" stroke="#111" stroke-width="2.4" />
<path d="M581.6,1488.6 L599.2,1502.1 L612.0,1481.9 L592.4,1471.8 Z" fill="#fff" stroke="none"/>
<line x1="581.6" y1="1488.6" x2="599.2" y2="1502.1" stroke-width="2.4"/>
<line x1="592.4" y1="1471.8" x2="612.0" y2="1481.9" stroke-width="2.4"/>
<ellipse cx="587.0" cy="1480.2" rx="5.0" ry="10.0" transform="rotate(25.0 587.0 1480.2)" fill="#111" stroke="#111" stroke-width="3.5" />
<ellipse cx="605.6" cy="1492.0" rx="7.0" ry="12.5" transform="rotate(25.0 605.6 1492.0)" fill="#fff" stroke="#111" stroke-width="3.2" />
<ellipse cx="606.6" cy="1492.0" rx="4.5" ry="7.5" transform="rotate(25.0 606.6 1492.0)" fill="none" stroke="#111" stroke-width="2" />
<ellipse cx="802.0" cy="1461.6" rx="26.0" ry="38.5" transform="rotate(25.2 802.0 1461.6)" fill="#fff" stroke="#111" stroke-width="2" />
<path d="M785.6,1496.4 L802.6,1504.4 L835.4,1434.8 L818.4,1426.8 Z" fill="#fff" stroke="none"/>
<line x1="785.6" y1="1496.4" x2="802.6" y2="1504.4" stroke-width="2"/>
<line x1="818.4" y1="1426.8" x2="835.4" y2="1434.8" stroke-width="2"/>
<ellipse cx="819.0" cy="1469.6" rx="26.0" ry="38.5" transform="rotate(25.0 819.0 1469.6)" fill="#fff" stroke="#111" stroke-width="2" />
<ellipse cx="816.0" cy="1468.1" rx="24.5" ry="37.5" transform="rotate(25.0 816.0 1468.1)" fill="none" stroke="#111" stroke-width="1.1" />
<ellipse cx="820.3" cy="1470.1" rx="9.0" ry="13.5" transform="rotate(25.0 820.3 1470.1)" fill="#fff" stroke="#111" stroke-width="2.2" />
<path d="M814.0,1461.6 Q810.0,1472.6 816.0,1481.6" stroke-width="1.3"/>
<ellipse cx="676.0" cy="1533.0" rx="26.0" ry="38.5" transform="rotate(25.2 676.0 1533.0)" fill="#fff" stroke="#111" stroke-width="2" />
<path d="M659.6,1567.8 L676.6,1575.8 L709.4,1506.2 L692.4,1498.2 Z" fill="#fff" stroke="none"/>
<line x1="659.6" y1="1567.8" x2="676.6" y2="1575.8" stroke-width="2"/>
<line x1="692.4" y1="1498.2" x2="709.4" y2="1506.2" stroke-width="2"/>
<ellipse cx="693.0" cy="1541.0" rx="26.0" ry="38.5" transform="rotate(25.0 693.0 1541.0)" fill="#fff" stroke="#111" stroke-width="2" />
<ellipse cx="690.0" cy="1539.5" rx="24.5" ry="37.5" transform="rotate(25.0 690.0 1539.5)" fill="none" stroke="#111" stroke-width="1.1" />
<ellipse cx="694.3" cy="1541.5" rx="9.0" ry="13.5" transform="rotate(25.0 694.3 1541.5)" fill="#fff" stroke="#111" stroke-width="2.2" />
<path d="M688.0,1533.0 Q684.0,1544.0 690.0,1553.0" stroke-width="1.3"/>
<ellipse cx="883.0" cy="1505.4" rx="9.5" ry="13.2" transform="rotate(25.0 883.0 1505.4)" fill="#fff" stroke="#111" stroke-width="2" />
<ellipse cx="882.0" cy="1505.4" rx="8.0" ry="11.5" transform="rotate(25.0 882.0 1505.4)" fill="none" stroke="#111" stroke-width="1.1" />
<ellipse cx="885.0" cy="1506.4" rx="2.0" ry="2.8" transform="rotate(25.0 885.0 1506.4)" fill="none" stroke="#111" stroke-width="1.3" />
<ellipse cx="757.2" cy="1578.3" rx="9.5" ry="13.2" transform="rotate(25.0 757.2 1578.3)" fill="#fff" stroke="#111" stroke-width="2" />
<ellipse cx="756.2" cy="1578.3" rx="8.0" ry="11.5" transform="rotate(25.0 756.2 1578.3)" fill="none" stroke="#111" stroke-width="1.1" />
<ellipse cx="759.2" cy="1579.3" rx="2.0" ry="2.8" transform="rotate(25.0 759.2 1579.3)" fill="none" stroke="#111" stroke-width="1.3" />
<ellipse cx="912.0" cy="1524.7" rx="6.0" ry="13.0" transform="rotate(26.6 912.0 1524.7)" fill="#fff" stroke="#111" stroke-width="2.2" />
<path d="M906.2,1536.3 L921.2,1543.8 L932.8,1520.6 L917.8,1513.1 Z" fill="#fff" stroke="none"/>
<line x1="906.2" y1="1536.3" x2="921.2" y2="1543.8" stroke-width="2.2"/>
<line x1="917.8" y1="1513.1" x2="932.8" y2="1520.6" stroke-width="2.2"/>
<ellipse cx="912.0" cy="1524.7" rx="6.0" ry="12.8" transform="rotate(25.0 912.0 1524.7)" fill="none" stroke="#111" stroke-width="1.6" />
<ellipse cx="915.0" cy="1526.2" rx="6.0" ry="12.8" transform="rotate(25.0 915.0 1526.2)" fill="none" stroke="#111" stroke-width="1.6" />
<ellipse cx="918.0" cy="1527.7" rx="6.0" ry="12.8" transform="rotate(25.0 918.0 1527.7)" fill="none" stroke="#111" stroke-width="1.6" />
<ellipse cx="921.0" cy="1529.2" rx="6.0" ry="12.8" transform="rotate(25.0 921.0 1529.2)" fill="none" stroke="#111" stroke-width="1.6" />
<ellipse cx="924.0" cy="1530.7" rx="6.0" ry="12.8" transform="rotate(25.0 924.0 1530.7)" fill="none" stroke="#111" stroke-width="1.6" />
<ellipse cx="912.0" cy="1524.7" rx="6.0" ry="13.0" transform="rotate(25.0 912.0 1524.7)" fill="none" stroke="#111" stroke-width="3" />
<ellipse cx="927.0" cy="1532.2" rx="7.0" ry="13.5" transform="rotate(25.0 927.0 1532.2)" fill="#fff" stroke="#111" stroke-width="2.2" />
<ellipse cx="928.0" cy="1532.7" rx="5.0" ry="10.0" transform="rotate(25.0 928.0 1532.7)" fill="none" stroke="#111" stroke-width="2.4" />
<ellipse cx="786.0" cy="1593.6" rx="6.0" ry="13.0" transform="rotate(26.6 786.0 1593.6)" fill="#fff" stroke="#111" stroke-width="2.2" />
<path d="M780.2,1605.2 L795.2,1612.7 L806.8,1589.5 L791.8,1582.0 Z" fill="#fff" stroke="none"/>
<line x1="780.2" y1="1605.2" x2="795.2" y2="1612.7" stroke-width="2.2"/>
<line x1="791.8" y1="1582.0" x2="806.8" y2="1589.5" stroke-width="2.2"/>
<ellipse cx="786.0" cy="1593.6" rx="6.0" ry="12.8" transform="rotate(25.0 786.0 1593.6)" fill="none" stroke="#111" stroke-width="1.6" />
<ellipse cx="789.0" cy="1595.1" rx="6.0" ry="12.8" transform="rotate(25.0 789.0 1595.1)" fill="none" stroke="#111" stroke-width="1.6" />
<ellipse cx="792.0" cy="1596.6" rx="6.0" ry="12.8" transform="rotate(25.0 792.0 1596.6)" fill="none" stroke="#111" stroke-width="1.6" />
<ellipse cx="795.0" cy="1598.1" rx="6.0" ry="12.8" transform="rotate(25.0 795.0 1598.1)" fill="none" stroke="#111" stroke-width="1.6" />
<ellipse cx="798.0" cy="1599.6" rx="6.0" ry="12.8" transform="rotate(25.0 798.0 1599.6)" fill="none" stroke="#111" stroke-width="1.6" />
<ellipse cx="786.0" cy="1593.6" rx="6.0" ry="13.0" transform="rotate(25.0 786.0 1593.6)" fill="none" stroke="#111" stroke-width="3" />
<ellipse cx="801.0" cy="1601.1" rx="7.0" ry="13.5" transform="rotate(25.0 801.0 1601.1)" fill="#fff" stroke="#111" stroke-width="2.2" />
<ellipse cx="802.0" cy="1601.6" rx="5.0" ry="10.0" transform="rotate(25.0 802.0 1601.6)" fill="none" stroke="#111" stroke-width="2.4" />
<path d="M820,1618 L828,1613 L837,1618 L837,1628 L827,1632 L820,1627 Z" fill="#fff" stroke-width="1.6"/>
<ellipse cx="823.0" cy="1622.0" rx="3.5" ry="6.0" transform="rotate(25.0 823.0 1622.0)" fill="#fff" stroke="#111" stroke-width="1.6" />
<path d="M835,1619 L843,1623 L843,1629 L835,1626 M829,1627 L834,1631" stroke-width="1.5"/>
<circle cx="843" cy="1626" r="2.6" fill="#fff" stroke-width="1.4"/>
<path d="M947,1545.5 L955,1540.5 L964,1545.5 L964,1555.5 L954,1559.5 L947,1554.5 Z" fill="#fff" stroke-width="1.6"/>
<ellipse cx="950.0" cy="1549.5" rx="3.5" ry="6.0" transform="rotate(25.0 950.0 1549.5)" fill="#fff" stroke="#111" stroke-width="1.6" />
<path d="M962,1546.5 L970,1550.5 L970,1556.5 L962,1553.5 M956,1554.5 L961,1558.5" stroke-width="1.5"/>
<circle cx="970" cy="1553.5" r="2.6" fill="#fff" stroke-width="1.4"/>
<path d="M860.6,1641.8 L874.6,1631.8 L889.6,1636.8 L894.6,1658.8 L882.6,1668.8 L865.6,1662.8 Z" fill="#fff" stroke-width="2"/>
<path d="M860.6,1641.8 L866.6,1644.8 L871.6,1665.8 M866.6,1644.8 L880.6,1635.8" stroke-width="1.4"/>
<ellipse cx="882.6" cy="1650.8" rx="11.0" ry="17.0" transform="rotate(25.0 882.6 1650.8)" fill="#fff" stroke="#111" stroke-width="2.2" />
<ellipse cx="883.1" cy="1651.3" rx="8.5" ry="13.5" transform="rotate(25.0 883.1 1651.3)" fill="none" stroke="#111" stroke-width="2" />
<ellipse cx="884.1" cy="1651.8" rx="6.5" ry="11.0" transform="rotate(25.0 884.1 1651.8)" fill="none" stroke="#111" stroke-width="1.2" />
<path d="M987,1568.6 L1001,1558.6 L1016,1563.6 L1021,1585.6 L1009,1595.6 L992,1589.6 Z" fill="#fff" stroke-width="2"/>
<path d="M987,1568.6 L993,1571.6 L998,1592.6 M993,1571.6 L1007,1562.6" stroke-width="1.4"/>
<ellipse cx="1009.0" cy="1577.6" rx="11.0" ry="17.0" transform="rotate(25.0 1009.0 1577.6)" fill="#fff" stroke="#111" stroke-width="2.2" />
<ellipse cx="1009.5" cy="1578.1" rx="8.5" ry="13.5" transform="rotate(25.0 1009.5 1578.1)" fill="none" stroke="#111" stroke-width="2" />
<ellipse cx="1010.5" cy="1578.6" rx="6.5" ry="11.0" transform="rotate(25.0 1010.5 1578.6)" fill="none" stroke="#111" stroke-width="1.2" />
</g>
<g transform="translate(1005.0,1429.0) rotate(-0.56)" stroke-width="1.7" fill="#c4c4c4">
<rect x="-4.6" y="10.5" width="9.2" height="82.0" />
<path transform="rotate(18)" d="M-5.2,-12.46 A13.5,13.5 0 1 0 5.2,-12.46 L5.2,-5 A5.2,5.2 0 0 1 -5.2,-5 Z"/>
<path transform="rotate(18 0 103.0)" d="M-5.2,115.46 A13.5,13.5 0 1 1 5.2,115.46 L5.2,108.00485425454472 A5.2,5.2 0 0 0 -5.2,108.00485425454472 Z"/>
<rect x="-1.4" y="37.1" width="2.8" height="28.8" rx="1.4" fill="#fff" stroke-width="1.1"/>
<circle cx="0" cy="25.8" r="1.6" fill="#fff" stroke-width="1"/>
<circle cx="0" cy="77.3" r="1.6" fill="#fff" stroke-width="1"/>
</g>
<g transform="translate(1142.8,1441.7) rotate(-31.14)" stroke-width="1.7" fill="#c4c4c4">
<rect x="-4.6" y="10.5" width="9.2" height="80.5" />
<path transform="rotate(18)" d="M-5.2,-12.46 A13.5,13.5 0 1 0 5.2,-12.46 L5.2,-5 A5.2,5.2 0 0 1 -5.2,-5 Z"/>
<path transform="rotate(18 0 101.5)" d="M-5.2,113.99 A13.5,13.5 0 1 1 5.2,113.99 L5.2,106.52763170684115 A5.2,5.2 0 0 0 -5.2,106.52763170684115 Z"/>
<rect x="-1.4" y="36.5" width="2.8" height="28.4" rx="1.4" fill="#fff" stroke-width="1.1"/>
<circle cx="0" cy="25.4" r="1.6" fill="#fff" stroke-width="1"/>
<circle cx="0" cy="76.1" r="1.6" fill="#fff" stroke-width="1"/>
</g>
<g transform="translate(1028.3,1832.0) rotate(0.00)" stroke-width="1.7" fill="#c4c4c4">
<rect x="-4.6" y="10.5" width="9.2" height="82.5" />
<path transform="rotate(18)" d="M-5.2,-12.46 A13.5,13.5 0 1 0 5.2,-12.46 L5.2,-5 A5.2,5.2 0 0 1 -5.2,-5 Z"/>
<path transform="rotate(18 0 103.5)" d="M-5.2,115.96 A13.5,13.5 0 1 1 5.2,115.96 L5.2,108.5 A5.2,5.2 0 0 0 -5.2,108.5 Z"/>
<rect x="-1.4" y="37.3" width="2.8" height="29.0" rx="1.4" fill="#fff" stroke-width="1.1"/>
<circle cx="0" cy="25.9" r="1.6" fill="#fff" stroke-width="1"/>
<circle cx="0" cy="77.6" r="1.6" fill="#fff" stroke-width="1"/>
</g>
<polyline points="1047.8,142.4 998.8,227 1026.6,244" stroke="#111" stroke-width="6.6" stroke-linejoin="round" stroke-linecap="butt"/><polyline points="1047.8,142.4 998.8,227 1026.6,244" stroke="#fff" stroke-width="4.7" stroke-linejoin="round" stroke-linecap="butt"/><polyline points="1047.8,142.4 998.8,227 1026.6,244" stroke="#111" stroke-width="2.9" stroke-linejoin="round" stroke-linecap="butt"/><polyline points="1047.8,142.4 998.8,227 1026.6,244" stroke="#fff" stroke-width="1.7" stroke-linejoin="round" stroke-linecap="butt"/>
<polyline points="895.4,444.5 869,428.6 817,514.7" stroke="#111" stroke-width="6.6" stroke-linejoin="round" stroke-linecap="butt"/><polyline points="895.4,444.5 869,428.6 817,514.7" stroke="#fff" stroke-width="4.7" stroke-linejoin="round" stroke-linecap="butt"/><polyline points="895.4,444.5 869,428.6 817,514.7" stroke="#111" stroke-width="2.9" stroke-linejoin="round" stroke-linecap="butt"/><polyline points="895.4,444.5 869,428.6 817,514.7" stroke="#fff" stroke-width="1.7" stroke-linejoin="round" stroke-linecap="butt"/>
<polyline points="1421.4,1594 1447.8,1578 1498,1664.3" stroke="#111" stroke-width="6.6" stroke-linejoin="round" stroke-linecap="butt"/><polyline points="1421.4,1594 1447.8,1578 1498,1664.3" stroke="#fff" stroke-width="4.7" stroke-linejoin="round" stroke-linecap="butt"/><polyline points="1421.4,1594 1447.8,1578 1498,1664.3" stroke="#111" stroke-width="2.9" stroke-linejoin="round" stroke-linecap="butt"/><polyline points="1421.4,1594 1447.8,1578 1498,1664.3" stroke="#fff" stroke-width="1.7" stroke-linejoin="round" stroke-linecap="butt"/>
<text transform="translate(985.7,1534.0) rotate(-90.0)" font-size="21" textLength="101" lengthAdjust="spacingAndGlyphs" fill="#111" stroke="#fff" stroke-width="0.25">SW 30 mm</text>
<text transform="translate(1012.0,1924.6) rotate(-90.0)" font-size="21" textLength="100.6" lengthAdjust="spacingAndGlyphs" fill="#111" stroke="#fff" stroke-width="0.25">SW 19 mm</text>
<text transform="translate(1160.8,1430.0) rotate(61.5)" font-size="21" textLength="102.5" lengthAdjust="spacingAndGlyphs" fill="#111" stroke="#fff" stroke-width="0.25">SW 27 mm</text>
<text transform="translate(1428.0,1607.0) rotate(60.4)" font-size="21" textLength="91.4" lengthAdjust="spacingAndGlyphs" fill="#111" stroke="#fff" stroke-width="0.25">SW 3 mm</text>
<text transform="translate(1028.0,229.5) rotate(-57.0)" font-size="22" textLength="91" lengthAdjust="spacingAndGlyphs" fill="#111" stroke="#fff" stroke-width="0.25">SW 3 mm</text>
<text transform="translate(842.5,534.5) rotate(-57.3)" font-size="22" textLength="86" lengthAdjust="spacingAndGlyphs" fill="#111" stroke="#fff" stroke-width="0.25">SW 4 mm</text>
<g stroke-width="2" fill="none">
<g transform="translate(510.0,51.7) rotate(31.12)">
<path d="M2,-4.1 L66.3,-4.1 L66.3,4.1 L2,4.1 A4.1,4.1 0 0 1 2,-4.1 Z" fill="#fff" stroke-width="1.8"/>
<path d="M12,-4.1 Q10,0 12,4.1" stroke-width="2.2"/>
<line x1="17.0" y1="-3.5999999999999996" x2="18.5" y2="3.5999999999999996" stroke-width="1.1"/>
<line x1="19.2" y1="-3.5999999999999996" x2="20.7" y2="3.5999999999999996" stroke-width="1.1"/>
<line x1="21.4" y1="-3.5999999999999996" x2="22.9" y2="3.5999999999999996" stroke-width="1.1"/>
<line x1="23.6" y1="-3.5999999999999996" x2="25.1" y2="3.5999999999999996" stroke-width="1.1"/>
<line x1="25.8" y1="-3.5999999999999996" x2="27.3" y2="3.5999999999999996" stroke-width="1.1"/>
<line x1="28.0" y1="-3.5999999999999996" x2="29.5" y2="3.5999999999999996" stroke-width="1.1"/>
<line x1="30.2" y1="-3.5999999999999996" x2="31.7" y2="3.5999999999999996" stroke-width="1.1"/>
<line x1="32.4" y1="-3.5999999999999996" x2="33.9" y2="3.5999999999999996" stroke-width="1.1"/>
<line x1="34.6" y1="-3.5999999999999996" x2="36.1" y2="3.5999999999999996" stroke-width="1.1"/>
<line x1="36.8" y1="-3.5999999999999996" x2="38.3" y2="3.5999999999999996" stroke-width="1.1"/>
<line x1="39.0" y1="-3.5999999999999996" x2="40.5" y2="3.5999999999999996" stroke-width="1.1"/>
<line x1="41.2" y1="-3.5999999999999996" x2="42.7" y2="3.5999999999999996" stroke-width="1.1"/>
<line x1="43.4" y1="-3.5999999999999996" x2="44.9" y2="3.5999999999999996" stroke-width="1.1"/>
<line x1="45.6" y1="-3.5999999999999996" x2="47.1" y2="3.5999999999999996" stroke-width="1.1"/>
<line x1="47.8" y1="-3.5999999999999996" x2="49.3" y2="3.5999999999999996" stroke-width="1.1"/>
<line x1="50.0" y1="-3.5999999999999996" x2="51.5" y2="3.5999999999999996" stroke-width="1.1"/>
<line x1="52.2" y1="-3.5999999999999996" x2="53.7" y2="3.5999999999999996" stroke-width="1.1"/>
<line x1="54.4" y1="-3.5999999999999996" x2="55.9" y2="3.5999999999999996" stroke-width="1.1"/>
<line x1="56.6" y1="-3.5999999999999996" x2="58.1" y2="3.5999999999999996" stroke-width="1.1"/>
<line x1="58.8" y1="-3.5999999999999996" x2="60.3" y2="3.5999999999999996" stroke-width="1.1"/>
<line x1="17" y1="0" x2="62.3" y2="0" stroke-width="2.2" stroke="#111"/>
<path d="M62.3,-5.1 L74.3,-5.6 L74.3,5.6 L62.3,5.1 Z" fill="#fff" stroke-width="1.8"/>
<path d="M62.3,-1.5 L74.3,-2 M62.3,2 L74.3,2.5" stroke-width="1.3"/>
</g>
<g transform="translate(467.6,76.9) rotate(31.12)">
<path d="M2,-4.1 L66.3,-4.1 L66.3,4.1 L2,4.1 A4.1,4.1 0 0 1 2,-4.1 Z" fill="#fff" stroke-width="1.8"/>
<path d="M12,-4.1 Q10,0 12,4.1" stroke-width="2.2"/>
<line x1="17.0" y1="-3.5999999999999996" x2="18.5" y2="3.5999999999999996" stroke-width="1.1"/>
<line x1="19.2" y1="-3.5999999999999996" x2="20.7" y2="3.5999999999999996" stroke-width="1.1"/>
<line x1="21.4" y1="-3.5999999999999996" x2="22.9" y2="3.5999999999999996" stroke-width="1.1"/>
<line x1="23.6" y1="-3.5999999999999996" x2="25.1" y2="3.5999999999999996" stroke-width="1.1"/>
<line x1="25.8" y1="-3.5999999999999996" x2="27.3" y2="3.5999999999999996" stroke-width="1.1"/>
<line x1="28.0" y1="-3.5999999999999996" x2="29.5" y2="3.5999999999999996" stroke-width="1.1"/>
<line x1="30.2" y1="-3.5999999999999996" x2="31.7" y2="3.5999999999999996" stroke-width="1.1"/>
<line x1="32.4" y1="-3.5999999999999996" x2="33.9" y2="3.5999999999999996" stroke-width="1.1"/>
<line x1="34.6" y1="-3.5999999999999996" x2="36.1" y2="3.5999999999999996" stroke-width="1.1"/>
<line x1="36.8" y1="-3.5999999999999996" x2="38.3" y2="3.5999999999999996" stroke-width="1.1"/>
<line x1="39.0" y1="-3.5999999999999996" x2="40.5" y2="3.5999999999999996" stroke-width="1.1"/>
<line x1="41.2" y1="-3.5999999999999996" x2="42.7" y2="3.5999999999999996" stroke-width="1.1"/>
<line x1="43.4" y1="-3.5999999999999996" x2="44.9" y2="3.5999999999999996" stroke-width="1.1"/>
<line x1="45.6" y1="-3.5999999999999996" x2="47.1" y2="3.5999999999999996" stroke-width="1.1"/>
<line x1="47.8" y1="-3.5999999999999996" x2="49.3" y2="3.5999999999999996" stroke-width="1.1"/>
<line x1="50.0" y1="-3.5999999999999996" x2="51.5" y2="3.5999999999999996" stroke-width="1.1"/>
<line x1="52.2" y1="-3.5999999999999996" x2="53.7" y2="3.5999999999999996" stroke-width="1.1"/>
<line x1="54.4" y1="-3.5999999999999996" x2="55.9" y2="3.5999999999999996" stroke-width="1.1"/>
<line x1="56.6" y1="-3.5999999999999996" x2="58.1" y2="3.5999999999999996" stroke-width="1.1"/>
<line x1="58.8" y1="-3.5999999999999996" x2="60.3" y2="3.5999999999999996" stroke-width="1.1"/>
<line x1="17" y1="0" x2="62.3" y2="0" stroke-width="2.2" stroke="#111"/>
<path d="M62.3,-5.1 L74.3,-5.6 L74.3,5.6 L62.3,5.1 Z" fill="#fff" stroke-width="1.8"/>
<path d="M62.3,-1.5 L74.3,-2 M62.3,2 L74.3,2.5" stroke-width="1.3"/>
</g>
<path d="M576.2,159 C574,145 580,130 590,117 C600,104 612,94 622,93 C635,92 642,104 641.5,118 C641,132 636,147 628,153.7 C624,152 620,151.5 617,153 C608,157 601,166 597,172.5 C593,175 586,174 580.2,167 C577.5,164 576.5,162 576.2,159 Z" fill="#fff"/>
<ellipse cx="609.4" cy="108.7" rx="2.0" ry="2.8" transform="rotate(30.0 609.4 108.7)" fill="none" stroke="#111" stroke-width="1.5" />
<ellipse cx="630.6" cy="121.9" rx="2.0" ry="2.8" transform="rotate(30.0 630.6 121.9)" fill="none" stroke="#111" stroke-width="1.5" />
<ellipse cx="588.2" cy="145.8" rx="2.0" ry="2.8" transform="rotate(30.0 588.2 145.8)" fill="none" stroke="#111" stroke-width="1.5" />
<ellipse cx="666.0" cy="167.0" rx="27.6" ry="45.4" transform="rotate(30.0 666.0 167.0)" fill="#fff" stroke="#111" stroke-width="2" />
<ellipse cx="669.0" cy="169.6" rx="27.6" ry="45.4" transform="rotate(30.0 669.0 169.6)" fill="#fff" stroke="#111" stroke-width="2.2" />
<ellipse cx="669.0" cy="169.6" rx="24.5" ry="41.5" transform="rotate(30.0 669.0 169.6)" fill="none" stroke="#111" stroke-width="1.8" />
<line x1="687.6" y1="133.0" x2="646.6" y2="204.0" stroke-width="1.5"/>
<line x1="688.7" y1="183.5" x2="647.1" y2="159.5" stroke-width="1.5"/>
<line x1="691.4" y1="135.2" x2="650.4" y2="206.2" stroke-width="1.5"/>
<line x1="690.9" y1="179.7" x2="649.3" y2="155.7" stroke-width="1.5"/>
<ellipse cx="691.3" cy="157.0" rx="4.5" ry="6.5" transform="rotate(30.0 691.3 157.0)" fill="#fff" stroke="#111" stroke-width="1.6" />
<ellipse cx="668.7" cy="144.0" rx="4.5" ry="6.5" transform="rotate(30.0 668.7 144.0)" fill="#fff" stroke="#111" stroke-width="1.6" />
<ellipse cx="669.3" cy="195.2" rx="4.5" ry="6.5" transform="rotate(30.0 669.3 195.2)" fill="#fff" stroke="#111" stroke-width="1.6" />
<ellipse cx="646.7" cy="182.2" rx="4.5" ry="6.5" transform="rotate(30.0 646.7 182.2)" fill="#fff" stroke="#111" stroke-width="1.6" />
<ellipse cx="669.0" cy="169.6" rx="4.0" ry="7.5" transform="rotate(32.7 669.0 169.6)" fill="#fff" stroke="#111" stroke-width="1.8" />
<path d="M665.0,175.9 L682.0,186.8 L690.0,174.2 L673.0,163.3 Z" fill="#fff" stroke="none"/>
<line x1="665.0" y1="175.9" x2="682.0" y2="186.8" stroke-width="1.8"/>
<line x1="673.0" y1="163.3" x2="690.0" y2="174.2" stroke-width="1.8"/>
<ellipse cx="686.0" cy="180.5" rx="4.0" ry="7.5" transform="rotate(32.7 686.0 180.5)" fill="#fff" stroke="#111" stroke-width="1.8" />
<ellipse cx="741.9" cy="186.8" rx="8.5" ry="12.5" transform="rotate(30.0 741.9 186.8)" fill="#fff" stroke="#111" stroke-width="2" />
<ellipse cx="740.9" cy="186.8" rx="6.8" ry="10.5" transform="rotate(30.0 740.9 186.8)" fill="none" stroke="#111" stroke-width="1.1" />
<path d="M739.9,180.8 Q745.9,184.8 742.9,192.8 Q736.9,188.8 739.9,180.8 Z" stroke-width="1.5"/>
<ellipse cx="700.8" cy="210.7" rx="8.5" ry="12.5" transform="rotate(30.0 700.8 210.7)" fill="#fff" stroke="#111" stroke-width="2" />
<ellipse cx="699.8" cy="210.7" rx="6.8" ry="10.5" transform="rotate(30.0 699.8 210.7)" fill="none" stroke="#111" stroke-width="1.1" />
<path d="M698.8,204.7 Q704.8,208.7 701.8,216.7 Q695.8,212.7 698.8,204.7 Z" stroke-width="1.5"/>
<g transform="translate(767.0,201.4) rotate(29.60)">
<path d="M0,0 L8,-2.8 L42.8,-2.8 L42.8,2.8 L8,2.8 Z" fill="#111" stroke-width="1.2"/>
<line x1="3.0" y1="-4.3" x2="4.2" y2="4.3" stroke-width="1.1"/>
<line x1="5.3" y1="-4.3" x2="6.5" y2="4.3" stroke-width="1.1"/>
<line x1="7.6" y1="-4.3" x2="8.8" y2="4.3" stroke-width="1.1"/>
<line x1="9.9" y1="-4.3" x2="11.1" y2="4.3" stroke-width="1.1"/>
<line x1="12.2" y1="-4.3" x2="13.4" y2="4.3" stroke-width="1.1"/>
<line x1="14.5" y1="-4.3" x2="15.7" y2="4.3" stroke-width="1.1"/>
<line x1="16.8" y1="-4.3" x2="18.0" y2="4.3" stroke-width="1.1"/>
<line x1="19.1" y1="-4.3" x2="20.3" y2="4.3" stroke-width="1.1"/>
<line x1="21.4" y1="-4.3" x2="22.6" y2="4.3" stroke-width="1.1"/>
<line x1="23.7" y1="-4.3" x2="24.9" y2="4.3" stroke-width="1.1"/>
<line x1="26.0" y1="-4.3" x2="27.2" y2="4.3" stroke-width="1.1"/>
<line x1="28.3" y1="-4.3" x2="29.5" y2="4.3" stroke-width="1.1"/>
<line x1="30.6" y1="-4.3" x2="31.8" y2="4.3" stroke-width="1.1"/>
<line x1="32.9" y1="-4.3" x2="34.1" y2="4.3" stroke-width="1.1"/>
<line x1="35.2" y1="-4.3" x2="36.4" y2="4.3" stroke-width="1.1"/>
<line x1="37.5" y1="-4.3" x2="38.7" y2="4.3" stroke-width="1.1"/>
<line x1="39.8" y1="-4.3" x2="41.0" y2="4.3" stroke-width="1.1"/>
<line x1="42.1" y1="-4.3" x2="43.3" y2="4.3" stroke-width="1.1"/>
<rect x="42.8" y="-2.8" width="32.0" height="5.6" fill="#fff" stroke-width="1.6"/>
<ellipse cx="76.7" cy="0" rx="4.5" ry="6.5" fill="#fff" stroke-width="1.8"/>
<path d="M74.7,-3 L78.7,3 M79.2,-2.5 L74.2,2.5" stroke-width="1.1"/>
</g>
<g transform="translate(724.6,225.3) rotate(29.95)">
<path d="M0,0 L8,-2.8 L43.7,-2.8 L43.7,2.8 L8,2.8 Z" fill="#111" stroke-width="1.2"/>
<line x1="3.0" y1="-4.3" x2="4.2" y2="4.3" stroke-width="1.1"/>
<line x1="5.3" y1="-4.3" x2="6.5" y2="4.3" stroke-width="1.1"/>
<line x1="7.6" y1="-4.3" x2="8.8" y2="4.3" stroke-width="1.1"/>
<line x1="9.9" y1="-4.3" x2="11.1" y2="4.3" stroke-width="1.1"/>
<line x1="12.2" y1="-4.3" x2="13.4" y2="4.3" stroke-width="1.1"/>
<line x1="14.5" y1="-4.3" x2="15.7" y2="4.3" stroke-width="1.1"/>
<line x1="16.8" y1="-4.3" x2="18.0" y2="4.3" stroke-width="1.1"/>
<line x1="19.1" y1="-4.3" x2="20.3" y2="4.3" stroke-width="1.1"/>
<line x1="21.4" y1="-4.3" x2="22.6" y2="4.3" stroke-width="1.1"/>
<line x1="23.7" y1="-4.3" x2="24.9" y2="4.3" stroke-width="1.1"/>
<line x1="26.0" y1="-4.3" x2="27.2" y2="4.3" stroke-width="1.1"/>
<line x1="28.3" y1="-4.3" x2="29.5" y2="4.3" stroke-width="1.1"/>
<line x1="30.6" y1="-4.3" x2="31.8" y2="4.3" stroke-width="1.1"/>
<line x1="32.9" y1="-4.3" x2="34.1" y2="4.3" stroke-width="1.1"/>
<line x1="35.2" y1="-4.3" x2="36.4" y2="4.3" stroke-width="1.1"/>
<line x1="37.5" y1="-4.3" x2="38.7" y2="4.3" stroke-width="1.1"/>
<line x1="39.8" y1="-4.3" x2="41.0" y2="4.3" stroke-width="1.1"/>
<line x1="42.1" y1="-4.3" x2="43.3" y2="4.3" stroke-width="1.1"/>
<line x1="44.4" y1="-4.3" x2="45.6" y2="4.3" stroke-width="1.1"/>
<rect x="43.7" y="-2.8" width="32.8" height="5.6" fill="#fff" stroke-width="1.6"/>
<ellipse cx="78.5" cy="0" rx="4.5" ry="6.5" fill="#fff" stroke-width="1.8"/>
<path d="M76.5,-3 L80.5,3 M81.0,-2.5 L76.0,2.5" stroke-width="1.1"/>
</g>
<ellipse cx="559.5" cy="447.5" rx="30.8" ry="48.0" transform="rotate(30.0 559.5 447.5)" fill="#fff" stroke="#111" stroke-width="2" />
<ellipse cx="562.7" cy="450.2" rx="30.8" ry="48.0" transform="rotate(30.0 562.7 450.2)" fill="#fff" stroke="#111" stroke-width="2.2" />
<ellipse cx="563.5" cy="450.8" rx="26.0" ry="41.5" transform="rotate(30.0 563.5 450.8)" fill="none" stroke="#111" stroke-width="1.8" />
<ellipse cx="564.9" cy="427.5" rx="2.8" ry="3.8" transform="rotate(30.0 564.9 427.5)" fill="none" stroke="#111" stroke-width="1.6" />
<ellipse cx="584.8" cy="440.2" rx="2.8" ry="3.8" transform="rotate(30.0 584.8 440.2)" fill="none" stroke="#111" stroke-width="1.6" />
<ellipse cx="544.9" cy="463.8" rx="2.8" ry="3.8" transform="rotate(30.0 544.9 463.8)" fill="none" stroke="#111" stroke-width="1.6" />
<ellipse cx="564.9" cy="474.6" rx="2.8" ry="3.8" transform="rotate(30.0 564.9 474.6)" fill="none" stroke="#111" stroke-width="1.6" />
<ellipse cx="873.0" cy="288.0" rx="26.6" ry="49.4" transform="rotate(28.0 873.0 288.0)" fill="#fff" stroke="#111" stroke-width="2" />
<path d="M849.8,331.6 L859.6,336.8 L906.0,249.6 L896.2,244.4 Z" fill="#fff" stroke="none"/>
<line x1="849.8" y1="331.6" x2="859.6" y2="336.8" stroke-width="2"/>
<line x1="896.2" y1="244.4" x2="906.0" y2="249.6" stroke-width="2"/>
<ellipse cx="882.8" cy="293.2" rx="26.6" ry="49.4" transform="rotate(30.0 882.8 293.2)" fill="#fff" stroke="#111" stroke-width="2" />
<ellipse cx="883.5" cy="294.8" rx="7.5" ry="13.0" transform="rotate(30.0 883.5 294.8)" fill="none" stroke="#111" stroke-width="2" />
<ellipse cx="919.3" cy="314.7" rx="9.4" ry="13.6" transform="rotate(30.0 919.3 314.7)" fill="none" stroke="#111" stroke-width="3" />
<ellipse cx="940.0" cy="328.5" rx="3.0" ry="3.2" transform="rotate(26.6 940.0 328.5)" fill="#fff" stroke="#111" stroke-width="1.6" />
<path d="M938.6,331.4 L945.6,334.9 L948.4,329.1 L941.4,325.6 Z" fill="#fff" stroke="none"/>
<line x1="938.6" y1="331.4" x2="945.6" y2="334.9" stroke-width="1.6"/>
<line x1="941.4" y1="325.6" x2="948.4" y2="329.1" stroke-width="1.6"/>
<ellipse cx="947.0" cy="332.0" rx="3.0" ry="3.2" transform="rotate(26.6 947.0 332.0)" fill="#fff" stroke="#111" stroke-width="1.6" />
<ellipse cx="937.5" cy="326.5" rx="3.2" ry="5.5" transform="rotate(30.0 937.5 326.5)" fill="#fff" stroke="#111" stroke-width="1.8" />
<path d="M966.5,311 L966.5,315 Q969.6,318 972.7,315 L972.7,311" fill="#fff" stroke-width="1.8"/>
<ellipse cx="969.6" cy="310.5" rx="3.1" ry="2.2" transform="rotate(0.0 969.6 310.5)" fill="#333" stroke="#111" stroke-width="1.8" />
<ellipse cx="963.0" cy="339.0" rx="8.5" ry="12.5" transform="rotate(30.8 963.0 339.0)" fill="#fff" stroke="#111" stroke-width="2" />
<path d="M956.6,349.7 L1000.3,375.7 L1013.1,354.3 L969.4,328.3 Z" fill="#fff" stroke="none"/>
<line x1="956.6" y1="349.7" x2="1000.3" y2="375.7" stroke-width="2"/>
<line x1="969.4" y1="328.3" x2="1013.1" y2="354.3" stroke-width="2"/>
<ellipse cx="1006.7" cy="365.0" rx="8.5" ry="12.5" transform="rotate(30.8 1006.7 365.0)" fill="#fff" stroke="#111" stroke-width="2" />
<ellipse cx="1007.5" cy="365.5" rx="6.0" ry="9.5" transform="rotate(30.0 1007.5 365.5)" fill="none" stroke="#111" stroke-width="1.8" />
<ellipse cx="966.0" cy="336.0" rx="2.2" ry="1.8" transform="rotate(30.0 966.0 336.0)" fill="none" stroke="#111" stroke-width="1.3" />
</g>
<g stroke-width="2" fill="none">
<g transform="translate(493.6,605.8) rotate(30.79)">
<path d="M2,-3.2 L69.1,-3.2 L69.1,3.2 L2,3.2 A3.2,3.2 0 0 1 2,-3.2 Z" fill="#fff" stroke-width="1.6"/>
<rect x="9" y="-2.4000000000000004" width="51.1" height="4.800000000000001" fill="#222" stroke="none"/>
<line x1="10.0" y1="-3.2" x2="11.0" y2="3.2" stroke="#fff" stroke-width="0.6"/>
<line x1="12.2" y1="-3.2" x2="13.2" y2="3.2" stroke="#fff" stroke-width="0.6"/>
<line x1="14.4" y1="-3.2" x2="15.4" y2="3.2" stroke="#fff" stroke-width="0.6"/>
<line x1="16.6" y1="-3.2" x2="17.6" y2="3.2" stroke="#fff" stroke-width="0.6"/>
<line x1="18.8" y1="-3.2" x2="19.8" y2="3.2" stroke="#fff" stroke-width="0.6"/>
<line x1="21.0" y1="-3.2" x2="22.0" y2="3.2" stroke="#fff" stroke-width="0.6"/>
<line x1="23.2" y1="-3.2" x2="24.2" y2="3.2" stroke="#fff" stroke-width="0.6"/>
<line x1="25.4" y1="-3.2" x2="26.4" y2="3.2" stroke="#fff" stroke-width="0.6"/>
<line x1="27.6" y1="-3.2" x2="28.6" y2="3.2" stroke="#fff" stroke-width="0.6"/>
<line x1="29.8" y1="-3.2" x2="30.8" y2="3.2" stroke="#fff" stroke-width="0.6"/>
<line x1="32.0" y1="-3.2" x2="33.0" y2="3.2" stroke="#fff" stroke-width="0.6"/>
<line x1="34.2" y1="-3.2" x2="35.2" y2="3.2" stroke="#fff" stroke-width="0.6"/>
<line x1="36.4" y1="-3.2" x2="37.4" y2="3.2" stroke="#fff" stroke-width="0.6"/>
<line x1="38.6" y1="-3.2" x2="39.6" y2="3.2" stroke="#fff" stroke-width="0.6"/>
<line x1="40.8" y1="-3.2" x2="41.8" y2="3.2" stroke="#fff" stroke-width="0.6"/>
<line x1="43.0" y1="-3.2" x2="44.0" y2="3.2" stroke="#fff" stroke-width="0.6"/>
<line x1="45.2" y1="-3.2" x2="46.2" y2="3.2" stroke="#fff" stroke-width="0.6"/>
<line x1="47.4" y1="-3.2" x2="48.4" y2="3.2" stroke="#fff" stroke-width="0.6"/>
<line x1="49.6" y1="-3.2" x2="50.6" y2="3.2" stroke="#fff" stroke-width="0.6"/>
<line x1="51.8" y1="-3.2" x2="52.8" y2="3.2" stroke="#fff" stroke-width="0.6"/>
<line x1="54.0" y1="-3.2" x2="55.0" y2="3.2" stroke="#fff" stroke-width="0.6"/>
<line x1="56.2" y1="-3.2" x2="57.2" y2="3.2" stroke="#fff" stroke-width="0.6"/>
<line x1="58.4" y1="-3.2" x2="59.4" y2="3.2" stroke="#fff" stroke-width="0.6"/>
<line x1="62.1" y1="0" x2="67.1" y2="0" stroke-width="1.2"/>
</g>
<g transform="translate(473.3,642.6) rotate(30.32)">
<path d="M2,-3.2 L68.9,-3.2 L68.9,3.2 L2,3.2 A3.2,3.2 0 0 1 2,-3.2 Z" fill="#fff" stroke-width="1.6"/>
<rect x="9" y="-2.4000000000000004" width="50.9" height="4.800000000000001" fill="#222" stroke="none"/>
<line x1="10.0" y1="-3.2" x2="11.0" y2="3.2" stroke="#fff" stroke-width="0.6"/>
<line x1="12.2" y1="-3.2" x2="13.2" y2="3.2" stroke="#fff" stroke-width="0.6"/>
<line x1="14.4" y1="-3.2" x2="15.4" y2="3.2" stroke="#fff" stroke-width="0.6"/>
<line x1="16.6" y1="-3.2" x2="17.6" y2="3.2" stroke="#fff" stroke-width="0.6"/>
<line x1="18.8" y1="-3.2" x2="19.8" y2="3.2" stroke="#fff" stroke-width="0.6"/>
<line x1="21.0" y1="-3.2" x2="22.0" y2="3.2" stroke="#fff" stroke-width="0.6"/>
<line x1="23.2" y1="-3.2" x2="24.2" y2="3.2" stroke="#fff" stroke-width="0.6"/>
<line x1="25.4" y1="-3.2" x2="26.4" y2="3.2" stroke="#fff" stroke-width="0.6"/>
<line x1="27.6" y1="-3.2" x2="28.6" y2="3.2" stroke="#fff" stroke-width="0.6"/>
<line x1="29.8" y1="-3.2" x2="30.8" y2="3.2" stroke="#fff" stroke-width="0.6"/>
<line x1="32.0" y1="-3.2" x2="33.0" y2="3.2" stroke="#fff" stroke-width="0.6"/>
<line x1="34.2" y1="-3.2" x2="35.2" y2="3.2" stroke="#fff" stroke-width="0.6"/>
<line x1="36.4" y1="-3.2" x2="37.4" y2="3.2" stroke="#fff" stroke-width="0.6"/>
<line x1="38.6" y1="-3.2" x2="39.6" y2="3.2" stroke="#fff" stroke-width="0.6"/>
<line x1="40.8" y1="-3.2" x2="41.8" y2="3.2" stroke="#fff" stroke-width="0.6"/>
<line x1="43.0" y1="-3.2" x2="44.0" y2="3.2" stroke="#fff" stroke-width="0.6"/>
<line x1="45.2" y1="-3.2" x2="46.2" y2="3.2" stroke="#fff" stroke-width="0.6"/>
<line x1="47.4" y1="-3.2" x2="48.4" y2="3.2" stroke="#fff" stroke-width="0.6"/>
<line x1="49.6" y1="-3.2" x2="50.6" y2="3.2" stroke="#fff" stroke-width="0.6"/>
<line x1="51.8" y1="-3.2" x2="52.8" y2="3.2" stroke="#fff" stroke-width="0.6"/>
<line x1="54.0" y1="-3.2" x2="55.0" y2="3.2" stroke="#fff" stroke-width="0.6"/>
<line x1="56.2" y1="-3.2" x2="57.2" y2="3.2" stroke="#fff" stroke-width="0.6"/>
<line x1="58.4" y1="-3.2" x2="59.4" y2="3.2" stroke="#fff" stroke-width="0.6"/>
<line x1="61.9" y1="0" x2="66.9" y2="0" stroke-width="1.2"/>
</g>
<path d="M566,705 C568,690 575,675 588,662 C597,654 606,650 614,651.3 C622,654 626,662 625.5,672 C625,684 619,700 611,710.7 C607,709 604,708 600,710.5 C593,714 587,720 582,727 C578,730 572,727 570.4,722.3 C567,716 565.5,710 566,705 Z" fill="#111" stroke-width="1.5"/>
<path d="M567,700 C570,684 580,668 592,659" stroke="#fff" stroke-width="0.9"/>
<ellipse cx="596.5" cy="665.8" rx="2.0" ry="2.5" transform="rotate(30.0 596.5 665.8)" fill="#fff" stroke="#fff" stroke-width="1.2" />
<ellipse cx="616.8" cy="677.4" rx="2.0" ry="2.5" transform="rotate(30.0 616.8 677.4)" fill="#fff" stroke="#fff" stroke-width="1.2" />
<ellipse cx="574.8" cy="702.0" rx="2.0" ry="2.5" transform="rotate(30.0 574.8 702.0)" fill="#fff" stroke="#fff" stroke-width="1.2" />
<ellipse cx="661.7" cy="726.7" rx="28.0" ry="45.5" transform="rotate(30.0 661.7 726.7)" fill="#fff" stroke="#111" stroke-width="3.4" />
<ellipse cx="661.7" cy="726.7" rx="24.0" ry="40.5" transform="rotate(30.0 661.7 726.7)" fill="none" stroke="#111" stroke-width="1.3" />
<ellipse cx="661.7" cy="702.0" rx="5.0" ry="6.5" transform="rotate(30.0 661.7 702.0)" fill="#fff" stroke="#111" stroke-width="1.8" />
<ellipse cx="662.2" cy="702.0" rx="3.0" ry="4.0" transform="rotate(30.0 662.2 702.0)" fill="none" stroke="#111" stroke-width="1.2" />
<ellipse cx="683.5" cy="713.6" rx="5.0" ry="6.5" transform="rotate(30.0 683.5 713.6)" fill="#fff" stroke="#111" stroke-width="1.8" />
<ellipse cx="684.0" cy="713.6" rx="3.0" ry="4.0" transform="rotate(30.0 684.0 713.6)" fill="none" stroke="#111" stroke-width="1.2" />
<ellipse cx="640.0" cy="738.3" rx="5.0" ry="6.5" transform="rotate(30.0 640.0 738.3)" fill="#fff" stroke="#111" stroke-width="1.8" />
<ellipse cx="640.5" cy="738.3" rx="3.0" ry="4.0" transform="rotate(30.0 640.5 738.3)" fill="none" stroke="#111" stroke-width="1.2" />
<ellipse cx="661.7" cy="751.3" rx="5.0" ry="6.5" transform="rotate(30.0 661.7 751.3)" fill="#fff" stroke="#111" stroke-width="1.8" />
<ellipse cx="662.2" cy="751.3" rx="3.0" ry="4.0" transform="rotate(30.0 662.2 751.3)" fill="none" stroke="#111" stroke-width="1.2" />
<ellipse cx="664.0" cy="728.5" rx="8.0" ry="11.0" transform="rotate(30.0 664.0 728.5)" fill="#fff" stroke="#111" stroke-width="1.6" />
<ellipse cx="664.0" cy="728.5" rx="4.0" ry="6.0" transform="rotate(30.6 664.0 728.5)" fill="#fff" stroke="#111" stroke-width="1.6" />
<path d="M660.9,733.7 L671.9,740.2 L678.1,729.8 L667.1,723.3 Z" fill="#fff" stroke="none"/>
<line x1="660.9" y1="733.7" x2="671.9" y2="740.2" stroke-width="1.6"/>
<line x1="667.1" y1="723.3" x2="678.1" y2="729.8" stroke-width="1.6"/>
<ellipse cx="675.0" cy="735.0" rx="4.0" ry="6.0" transform="rotate(30.6 675.0 735.0)" fill="#fff" stroke="#111" stroke-width="1.6" />
<ellipse cx="725.5" cy="764.3" rx="28.0" ry="45.5" transform="rotate(30.0 725.5 764.3)" fill="none" stroke="#111" stroke-width="2.6" />
<ellipse cx="786.4" cy="774.5" rx="6.0" ry="8.8" transform="rotate(30.0 786.4 774.5)" fill="#fff" stroke="#111" stroke-width="2.2" />
<ellipse cx="786.4" cy="774.5" rx="2.5" ry="5.0" transform="rotate(30.0 786.4 774.5)" fill="none" stroke="#111" stroke-width="1.8" />
<ellipse cx="806.7" cy="786.1" rx="6.0" ry="8.8" transform="rotate(30.0 806.7 786.1)" fill="#fff" stroke="#111" stroke-width="2.2" />
<ellipse cx="806.7" cy="786.1" rx="2.5" ry="5.0" transform="rotate(30.0 806.7 786.1)" fill="none" stroke="#111" stroke-width="1.8" />
<ellipse cx="764.6" cy="810.7" rx="6.0" ry="8.8" transform="rotate(30.0 764.6 810.7)" fill="#fff" stroke="#111" stroke-width="2.2" />
<ellipse cx="764.6" cy="810.7" rx="2.5" ry="5.0" transform="rotate(30.0 764.6 810.7)" fill="none" stroke="#111" stroke-width="1.8" />
<ellipse cx="786.4" cy="822.3" rx="6.0" ry="8.8" transform="rotate(30.0 786.4 822.3)" fill="#fff" stroke="#111" stroke-width="2.2" />
<ellipse cx="786.4" cy="822.3" rx="2.5" ry="5.0" transform="rotate(30.0 786.4 822.3)" fill="none" stroke="#111" stroke-width="1.8" />
<g transform="translate(840.0,806.0) rotate(29.35)">
<path d="M0,0 L6,-2.2 L36.3,-2.2 L36.3,2.2 L6,2.2 Z" fill="#111" stroke-width="1.2"/>
<line x1="2.0" y1="-3.6" x2="3.0" y2="3.6" stroke-width="1"/>
<line x1="4.2" y1="-3.6" x2="5.2" y2="3.6" stroke-width="1"/>
<line x1="6.4" y1="-3.6" x2="7.4" y2="3.6" stroke-width="1"/>
<line x1="8.6" y1="-3.6" x2="9.6" y2="3.6" stroke-width="1"/>
<line x1="10.8" y1="-3.6" x2="11.8" y2="3.6" stroke-width="1"/>
<line x1="13.0" y1="-3.6" x2="14.0" y2="3.6" stroke-width="1"/>
<line x1="15.2" y1="-3.6" x2="16.2" y2="3.6" stroke-width="1"/>
<line x1="17.4" y1="-3.6" x2="18.4" y2="3.6" stroke-width="1"/>
<line x1="19.6" y1="-3.6" x2="20.6" y2="3.6" stroke-width="1"/>
<line x1="21.8" y1="-3.6" x2="22.8" y2="3.6" stroke-width="1"/>
<line x1="24.0" y1="-3.6" x2="25.0" y2="3.6" stroke-width="1"/>
<line x1="26.2" y1="-3.6" x2="27.2" y2="3.6" stroke-width="1"/>
<line x1="28.4" y1="-3.6" x2="29.4" y2="3.6" stroke-width="1"/>
<line x1="30.6" y1="-3.6" x2="31.6" y2="3.6" stroke-width="1"/>
<line x1="32.8" y1="-3.6" x2="33.8" y2="3.6" stroke-width="1"/>
<line x1="35.0" y1="-3.6" x2="36.0" y2="3.6" stroke-width="1"/>
<rect x="36.3" y="-2.4" width="47.2" height="4.8" fill="#fff" stroke-width="1.6"/>
<path d="M54.9,-5 L60.9,-5 L60.9,5 L54.9,5 Z" fill="#fff" stroke-width="1.6"/>
<ellipse cx="60.9" cy="0" rx="3.2" ry="5.2" fill="#fff" stroke-width="1.6"/>
<path d="M82.5,-4.5 L87.5,-4.5 L87.5,4.5 L82.5,4.5 Z" fill="#fff" stroke-width="1.6"/>
<ellipse cx="87.5" cy="0" rx="3" ry="4.6" fill="#fff" stroke-width="1.6"/>
</g>
<g transform="translate(818.8,842.6) rotate(29.31)">
<path d="M0,0 L6,-2.2 L36.0,-2.2 L36.0,2.2 L6,2.2 Z" fill="#111" stroke-width="1.2"/>
<line x1="2.0" y1="-3.6" x2="3.0" y2="3.6" stroke-width="1"/>
<line x1="4.2" y1="-3.6" x2="5.2" y2="3.6" stroke-width="1"/>
<line x1="6.4" y1="-3.6" x2="7.4" y2="3.6" stroke-width="1"/>
<line x1="8.6" y1="-3.6" x2="9.6" y2="3.6" stroke-width="1"/>
<line x1="10.8" y1="-3.6" x2="11.8" y2="3.6" stroke-width="1"/>
<line x1="13.0" y1="-3.6" x2="14.0" y2="3.6" stroke-width="1"/>
<line x1="15.2" y1="-3.6" x2="16.2" y2="3.6" stroke-width="1"/>
<line x1="17.4" y1="-3.6" x2="18.4" y2="3.6" stroke-width="1"/>
<line x1="19.6" y1="-3.6" x2="20.6" y2="3.6" stroke-width="1"/>
<line x1="21.8" y1="-3.6" x2="22.8" y2="3.6" stroke-width="1"/>
<line x1="24.0" y1="-3.6" x2="25.0" y2="3.6" stroke-width="1"/>
<line x1="26.2" y1="-3.6" x2="27.2" y2="3.6" stroke-width="1"/>
<line x1="28.4" y1="-3.6" x2="29.4" y2="3.6" stroke-width="1"/>
<line x1="30.6" y1="-3.6" x2="31.6" y2="3.6" stroke-width="1"/>
<line x1="32.8" y1="-3.6" x2="33.8" y2="3.6" stroke-width="1"/>
<line x1="35.0" y1="-3.6" x2="36.0" y2="3.6" stroke-width="1"/>
<rect x="36.0" y="-2.4" width="46.8" height="4.8" fill="#fff" stroke-width="1.6"/>
<path d="M55.0,-5 L61.0,-5 L61.0,5 L55.0,5 Z" fill="#fff" stroke-width="1.6"/>
<ellipse cx="61.0" cy="0" rx="3.2" ry="5.2" fill="#fff" stroke-width="1.6"/>
<path d="M81.8,-4.5 L86.8,-4.5 L86.8,4.5 L81.8,4.5 Z" fill="#fff" stroke-width="1.6"/>
<ellipse cx="86.8" cy="0" rx="3" ry="4.6" fill="#fff" stroke-width="1.6"/>
</g>
<ellipse cx="929.9" cy="881.7" rx="8.5" ry="12.5" transform="rotate(30.0 929.9 881.7)" fill="none" stroke="#111" stroke-width="3.6" />
<path d="M927,1142.7 L927,1180 M963,1145.7 L963,1216 L956,1213 L956,1160" stroke-width="1.8"/>
<path d="M927,1142.7 C929,1136 940,1134 950,1137 C957,1139 962,1141 963,1145.7" stroke-width="2.2"/>
<path d="M932,1145 C936,1140 946,1140 952,1143 L952,1180 L958,1183 L958,1208" stroke-width="1.5"/>
<path d="M864,1199.7 L924,1180 C934,1178 945,1190 947,1205 C948,1214 948,1220 946.6,1223.8 L870,1250.8" fill="#fff"/>
<ellipse cx="858.0" cy="1223.8" rx="12.0" ry="28.0" transform="rotate(-18.0 858.0 1223.8)" fill="#fff" stroke="#111" stroke-width="2" />
<path d="M885,1198 C892,1210 897,1225 898.6,1240" stroke-width="1.6"/>
<path d="M924,1180 C932,1185 938,1195 940,1215" stroke-width="1.4"/>
<ellipse cx="903.0" cy="1196.0" rx="12.0" ry="7.5" transform="rotate(-8.0 903.0 1196.0)" fill="none" stroke="#111" stroke-width="1.8" />
<path d="M855,1199 L857,1219 L861,1219 L862,1199" fill="#fff" stroke-width="1.5"/>
<ellipse cx="858.5" cy="1198.0" rx="3.5" ry="2.2" transform="rotate(0.0 858.5 1198.0)" fill="#fff" stroke="#111" stroke-width="1.5" />
</g>
</g>
</svg></body></html>
